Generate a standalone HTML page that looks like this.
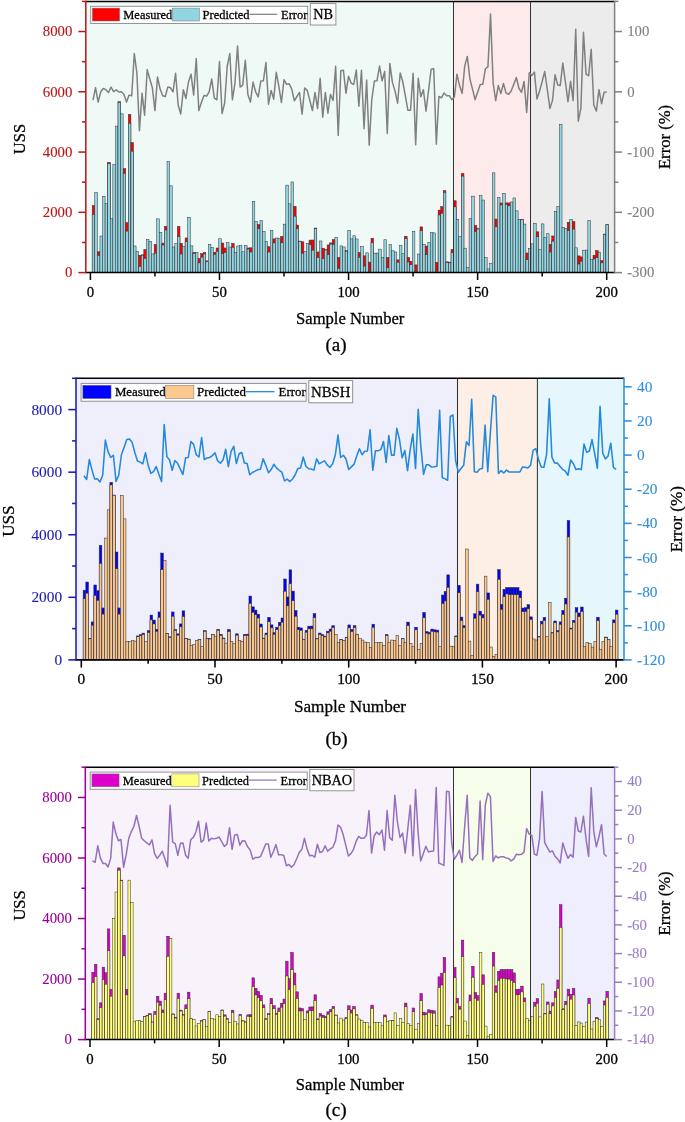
<!DOCTYPE html>
<html><head><meta charset="utf-8"><title>USS prediction error</title>
<style>html,body{margin:0;padding:0;background:#fff;}svg{display:block;will-change:transform;}text{font-family:"Liberation Serif",serif;}</style>
</head><body>
<svg width="685" height="1122" viewBox="0 0 685 1122">
<rect width="685" height="1122" fill="#fff"/>
<g>
<rect x="85.8" y="1.4" width="367.7" height="271.2" fill="#EFFAF7"/>
<rect x="453.5" y="1.4" width="77" height="271.2" fill="#FDEBEB"/>
<rect x="530.5" y="1.4" width="84.1" height="271.2" fill="#ECECEC"/>
<g stroke="#303030" stroke-width="0.5"><rect x="92.19" y="205.49" width="2.58" height="67.11" fill="#FF0000"/><rect x="92.19" y="214.75" width="2.58" height="57.85" fill="#91D5E2"/><rect x="94.77" y="192.57" width="2.58" height="80.03" fill="#91D5E2"/><rect x="97.35" y="251.81" width="2.58" height="20.79" fill="#FF0000"/><rect x="97.35" y="255.36" width="2.58" height="17.24" fill="#91D5E2"/><rect x="99.94" y="236.02" width="2.58" height="36.58" fill="#91D5E2"/><rect x="102.52" y="196.42" width="2.58" height="76.18" fill="#91D5E2"/><rect x="105.1" y="203.71" width="2.58" height="68.89" fill="#91D5E2"/><rect x="107.68" y="162.37" width="2.58" height="110.23" fill="#FF0000"/><rect x="107.68" y="163.58" width="2.58" height="109.02" fill="#91D5E2"/><rect x="110.26" y="218.68" width="2.58" height="53.92" fill="#91D5E2"/><rect x="112.84" y="164.43" width="2.58" height="108.17" fill="#91D5E2"/><rect x="115.42" y="126.1" width="2.58" height="146.5" fill="#91D5E2"/><rect x="118.01" y="101.68" width="2.58" height="170.92" fill="#FF0000"/><rect x="118.01" y="102.37" width="2.58" height="170.23" fill="#91D5E2"/><rect x="120.59" y="113.86" width="2.58" height="158.74" fill="#91D5E2"/><rect x="123.17" y="168.7" width="2.58" height="103.9" fill="#FF0000"/><rect x="123.17" y="173.27" width="2.58" height="99.33" fill="#91D5E2"/><rect x="125.75" y="222.58" width="2.58" height="50.02" fill="#FF0000"/><rect x="125.75" y="231.13" width="2.58" height="41.47" fill="#91D5E2"/><rect x="128.33" y="114.51" width="2.58" height="158.09" fill="#FF0000"/><rect x="128.33" y="123.2" width="2.58" height="149.4" fill="#91D5E2"/><rect x="130.91" y="142.64" width="2.58" height="129.96" fill="#FF0000"/><rect x="130.91" y="151.21" width="2.58" height="121.39" fill="#91D5E2"/><rect x="133.49" y="245.96" width="2.58" height="26.64" fill="#91D5E2"/><rect x="136.08" y="251.46" width="2.58" height="21.14" fill="#91D5E2"/><rect x="138.66" y="255.3" width="2.58" height="17.3" fill="#FF0000"/><rect x="138.66" y="266.48" width="2.58" height="6.12" fill="#91D5E2"/><rect x="141.24" y="254.82" width="2.58" height="17.78" fill="#FF0000"/><rect x="141.24" y="255.21" width="2.58" height="17.39" fill="#91D5E2"/><rect x="143.82" y="249.52" width="2.58" height="23.08" fill="#FF0000"/><rect x="143.82" y="258.52" width="2.58" height="14.08" fill="#91D5E2"/><rect x="146.4" y="239.37" width="2.58" height="33.23" fill="#91D5E2"/><rect x="148.98" y="241.34" width="2.58" height="31.26" fill="#91D5E2"/><rect x="151.57" y="253.92" width="2.58" height="18.68" fill="#91D5E2"/><rect x="154.15" y="244.49" width="2.58" height="28.11" fill="#FF0000"/><rect x="154.15" y="253.26" width="2.58" height="19.34" fill="#91D5E2"/><rect x="156.73" y="218.84" width="2.58" height="53.76" fill="#91D5E2"/><rect x="159.31" y="232.51" width="2.58" height="40.09" fill="#91D5E2"/><rect x="161.89" y="243.1" width="2.58" height="29.5" fill="#FF0000"/><rect x="161.89" y="245.05" width="2.58" height="27.55" fill="#91D5E2"/><rect x="164.47" y="226.41" width="2.58" height="46.19" fill="#FF0000"/><rect x="164.47" y="230.01" width="2.58" height="42.59" fill="#91D5E2"/><rect x="167.05" y="161.67" width="2.58" height="110.93" fill="#91D5E2"/><rect x="169.64" y="185.82" width="2.58" height="86.78" fill="#91D5E2"/><rect x="172.22" y="247.02" width="2.58" height="25.58" fill="#91D5E2"/><rect x="174.8" y="243.47" width="2.58" height="29.13" fill="#91D5E2"/><rect x="177.38" y="226.41" width="2.58" height="46.19" fill="#FF0000"/><rect x="177.38" y="236.57" width="2.58" height="36.03" fill="#91D5E2"/><rect x="179.96" y="243.28" width="2.58" height="29.32" fill="#FF0000"/><rect x="179.96" y="254.04" width="2.58" height="18.56" fill="#91D5E2"/><rect x="182.54" y="246.68" width="2.58" height="25.92" fill="#91D5E2"/><rect x="185.12" y="237.95" width="2.58" height="34.65" fill="#FF0000"/><rect x="185.12" y="241.79" width="2.58" height="30.81" fill="#91D5E2"/><rect x="187.71" y="217.5" width="2.58" height="55.1" fill="#91D5E2"/><rect x="190.29" y="245.82" width="2.58" height="26.78" fill="#91D5E2"/><rect x="192.87" y="252.53" width="2.58" height="20.07" fill="#FF0000"/><rect x="192.87" y="253.63" width="2.58" height="18.97" fill="#91D5E2"/><rect x="195.45" y="252.45" width="2.58" height="20.15" fill="#91D5E2"/><rect x="198.03" y="258.45" width="2.58" height="14.15" fill="#FF0000"/><rect x="198.03" y="262.87" width="2.58" height="9.73" fill="#91D5E2"/><rect x="200.61" y="253.74" width="2.58" height="18.86" fill="#FF0000"/><rect x="200.61" y="257.1" width="2.58" height="15.5" fill="#91D5E2"/><rect x="203.2" y="252.71" width="2.58" height="19.89" fill="#FF0000"/><rect x="203.2" y="253.95" width="2.58" height="18.65" fill="#91D5E2"/><rect x="205.78" y="260.83" width="2.58" height="11.77" fill="#FF0000"/><rect x="205.78" y="261.66" width="2.58" height="10.94" fill="#91D5E2"/><rect x="208.36" y="244.33" width="2.58" height="28.27" fill="#91D5E2"/><rect x="210.94" y="247.29" width="2.58" height="25.31" fill="#91D5E2"/><rect x="213.52" y="252.23" width="2.58" height="20.37" fill="#FF0000"/><rect x="213.52" y="254.27" width="2.58" height="18.33" fill="#91D5E2"/><rect x="216.1" y="247.98" width="2.58" height="24.62" fill="#FF0000"/><rect x="216.1" y="251.26" width="2.58" height="21.34" fill="#91D5E2"/><rect x="218.68" y="238.77" width="2.58" height="33.83" fill="#91D5E2"/><rect x="221.27" y="243.07" width="2.58" height="29.53" fill="#FF0000"/><rect x="221.27" y="253.73" width="2.58" height="18.87" fill="#91D5E2"/><rect x="223.85" y="247.98" width="2.58" height="24.62" fill="#FF0000"/><rect x="223.85" y="252.63" width="2.58" height="19.97" fill="#91D5E2"/><rect x="226.43" y="242.61" width="2.58" height="29.99" fill="#91D5E2"/><rect x="229.01" y="247.06" width="2.58" height="25.54" fill="#91D5E2"/><rect x="231.59" y="243.37" width="2.58" height="29.23" fill="#FF0000"/><rect x="231.59" y="247.26" width="2.58" height="25.34" fill="#91D5E2"/><rect x="234.17" y="252.47" width="2.58" height="20.13" fill="#91D5E2"/><rect x="236.75" y="245.96" width="2.58" height="26.64" fill="#91D5E2"/><rect x="239.34" y="245.54" width="2.58" height="27.06" fill="#91D5E2"/><rect x="241.92" y="251.76" width="2.58" height="20.84" fill="#91D5E2"/><rect x="244.5" y="245.68" width="2.58" height="26.92" fill="#91D5E2"/><rect x="247.08" y="247.98" width="2.58" height="24.62" fill="#FF0000"/><rect x="247.08" y="249.06" width="2.58" height="23.54" fill="#91D5E2"/><rect x="249.66" y="247.8" width="2.58" height="24.8" fill="#FF0000"/><rect x="249.66" y="252.04" width="2.58" height="20.56" fill="#91D5E2"/><rect x="252.24" y="201.23" width="2.58" height="71.37" fill="#91D5E2"/><rect x="254.83" y="221.49" width="2.58" height="51.11" fill="#91D5E2"/><rect x="257.41" y="224.63" width="2.58" height="47.97" fill="#FF0000"/><rect x="257.41" y="228.66" width="2.58" height="43.94" fill="#91D5E2"/><rect x="259.99" y="220.69" width="2.58" height="51.91" fill="#91D5E2"/><rect x="262.57" y="231.71" width="2.58" height="40.89" fill="#91D5E2"/><rect x="265.15" y="241.5" width="2.58" height="31.1" fill="#91D5E2"/><rect x="267.73" y="246.75" width="2.58" height="25.85" fill="#FF0000"/><rect x="267.73" y="252.05" width="2.58" height="20.55" fill="#91D5E2"/><rect x="270.31" y="230.71" width="2.58" height="41.89" fill="#91D5E2"/><rect x="272.9" y="238.85" width="2.58" height="33.75" fill="#FF0000"/><rect x="272.9" y="242.97" width="2.58" height="29.63" fill="#91D5E2"/><rect x="275.48" y="238" width="2.58" height="34.6" fill="#91D5E2"/><rect x="278.06" y="238.31" width="2.58" height="34.29" fill="#91D5E2"/><rect x="280.64" y="236.38" width="2.58" height="36.22" fill="#FF0000"/><rect x="280.64" y="242.83" width="2.58" height="29.77" fill="#91D5E2"/><rect x="283.22" y="224.14" width="2.58" height="48.46" fill="#91D5E2"/><rect x="285.8" y="185.12" width="2.58" height="87.48" fill="#91D5E2"/><rect x="288.38" y="203.85" width="2.58" height="68.75" fill="#91D5E2"/><rect x="290.97" y="181.94" width="2.58" height="90.66" fill="#91D5E2"/><rect x="293.55" y="206.34" width="2.58" height="66.26" fill="#FF0000"/><rect x="293.55" y="216.21" width="2.58" height="56.39" fill="#91D5E2"/><rect x="296.13" y="225.05" width="2.58" height="47.55" fill="#FF0000"/><rect x="296.13" y="228.76" width="2.58" height="43.84" fill="#91D5E2"/><rect x="298.71" y="241.11" width="2.58" height="31.49" fill="#FF0000"/><rect x="298.71" y="241.46" width="2.58" height="31.14" fill="#91D5E2"/><rect x="301.29" y="241.8" width="2.58" height="30.8" fill="#FF0000"/><rect x="301.29" y="253.26" width="2.58" height="19.34" fill="#91D5E2"/><rect x="303.87" y="251.39" width="2.58" height="21.21" fill="#91D5E2"/><rect x="306.46" y="243.41" width="2.58" height="29.19" fill="#91D5E2"/><rect x="309.04" y="240.12" width="2.58" height="32.48" fill="#FF0000"/><rect x="309.04" y="244.79" width="2.58" height="27.81" fill="#91D5E2"/><rect x="311.62" y="240.03" width="2.58" height="32.57" fill="#FF0000"/><rect x="311.62" y="250.19" width="2.58" height="22.41" fill="#91D5E2"/><rect x="314.2" y="228" width="2.58" height="44.6" fill="#FF0000"/><rect x="314.2" y="228.49" width="2.58" height="44.11" fill="#91D5E2"/><rect x="316.78" y="251.96" width="2.58" height="20.64" fill="#FF0000"/><rect x="316.78" y="257.7" width="2.58" height="14.9" fill="#91D5E2"/><rect x="319.36" y="240.98" width="2.58" height="31.62" fill="#91D5E2"/><rect x="321.94" y="248.22" width="2.58" height="24.38" fill="#FF0000"/><rect x="321.94" y="258.53" width="2.58" height="14.07" fill="#91D5E2"/><rect x="324.53" y="249.7" width="2.58" height="22.9" fill="#FF0000"/><rect x="324.53" y="249.95" width="2.58" height="22.65" fill="#91D5E2"/><rect x="327.11" y="244.94" width="2.58" height="27.66" fill="#FF0000"/><rect x="327.11" y="254.79" width="2.58" height="17.81" fill="#91D5E2"/><rect x="329.69" y="242.86" width="2.58" height="29.74" fill="#FF0000"/><rect x="329.69" y="244.17" width="2.58" height="28.43" fill="#91D5E2"/><rect x="332.27" y="239.69" width="2.58" height="32.91" fill="#FF0000"/><rect x="332.27" y="244.43" width="2.58" height="28.17" fill="#91D5E2"/><rect x="334.85" y="237.74" width="2.58" height="34.86" fill="#91D5E2"/><rect x="337.43" y="257.52" width="2.58" height="15.08" fill="#FF0000"/><rect x="337.43" y="268.44" width="2.58" height="4.16" fill="#91D5E2"/><rect x="340.01" y="245.87" width="2.58" height="26.73" fill="#91D5E2"/><rect x="342.6" y="246.92" width="2.58" height="25.68" fill="#91D5E2"/><rect x="345.18" y="250.72" width="2.58" height="21.88" fill="#FF0000"/><rect x="345.18" y="251.2" width="2.58" height="21.4" fill="#91D5E2"/><rect x="347.76" y="230.25" width="2.58" height="42.35" fill="#91D5E2"/><rect x="350.34" y="238.89" width="2.58" height="33.71" fill="#91D5E2"/><rect x="352.92" y="235.75" width="2.58" height="36.85" fill="#91D5E2"/><rect x="355.5" y="238.93" width="2.58" height="33.67" fill="#91D5E2"/><rect x="358.09" y="252.46" width="2.58" height="20.14" fill="#FF0000"/><rect x="358.09" y="257.3" width="2.58" height="15.3" fill="#91D5E2"/><rect x="360.67" y="246.73" width="2.58" height="25.87" fill="#91D5E2"/><rect x="363.25" y="255.84" width="2.58" height="16.76" fill="#FF0000"/><rect x="363.25" y="266.1" width="2.58" height="6.5" fill="#91D5E2"/><rect x="365.83" y="252.82" width="2.58" height="19.78" fill="#91D5E2"/><rect x="368.41" y="262.14" width="2.58" height="10.46" fill="#FF0000"/><rect x="368.41" y="271.41" width="2.58" height="1.19" fill="#91D5E2"/><rect x="370.99" y="238.22" width="2.58" height="34.38" fill="#FF0000"/><rect x="370.99" y="242.79" width="2.58" height="29.81" fill="#91D5E2"/><rect x="373.57" y="253.12" width="2.58" height="19.48" fill="#91D5E2"/><rect x="376.16" y="253.07" width="2.58" height="19.53" fill="#91D5E2"/><rect x="378.74" y="249.17" width="2.58" height="23.43" fill="#91D5E2"/><rect x="381.32" y="257.28" width="2.58" height="15.32" fill="#91D5E2"/><rect x="383.9" y="239.76" width="2.58" height="32.84" fill="#91D5E2"/><rect x="386.48" y="257.49" width="2.58" height="15.11" fill="#FF0000"/><rect x="386.48" y="267.92" width="2.58" height="4.68" fill="#91D5E2"/><rect x="389.06" y="244.55" width="2.58" height="28.05" fill="#91D5E2"/><rect x="391.64" y="250.79" width="2.58" height="21.81" fill="#91D5E2"/><rect x="394.23" y="251.99" width="2.58" height="20.61" fill="#91D5E2"/><rect x="396.81" y="259.84" width="2.58" height="12.76" fill="#FF0000"/><rect x="396.81" y="262.25" width="2.58" height="10.35" fill="#91D5E2"/><rect x="399.39" y="245.56" width="2.58" height="27.04" fill="#91D5E2"/><rect x="401.97" y="253.66" width="2.58" height="18.94" fill="#91D5E2"/><rect x="404.55" y="236.23" width="2.58" height="36.37" fill="#FF0000"/><rect x="404.55" y="238.63" width="2.58" height="33.97" fill="#91D5E2"/><rect x="407.13" y="257.39" width="2.58" height="15.21" fill="#FF0000"/><rect x="407.13" y="262.06" width="2.58" height="10.54" fill="#91D5E2"/><rect x="409.72" y="261.26" width="2.58" height="11.34" fill="#FF0000"/><rect x="409.72" y="264.74" width="2.58" height="7.86" fill="#91D5E2"/><rect x="412.3" y="231.45" width="2.58" height="41.15" fill="#91D5E2"/><rect x="414.88" y="264.88" width="2.58" height="7.72" fill="#FF0000"/><rect x="414.88" y="271.67" width="2.58" height="0.93" fill="#91D5E2"/><rect x="417.46" y="254.05" width="2.58" height="18.55" fill="#91D5E2"/><rect x="420.04" y="226.86" width="2.58" height="45.74" fill="#FF0000"/><rect x="420.04" y="230.7" width="2.58" height="41.9" fill="#91D5E2"/><rect x="422.62" y="244.34" width="2.58" height="28.26" fill="#91D5E2"/><rect x="425.2" y="246.08" width="2.58" height="26.52" fill="#FF0000"/><rect x="425.2" y="254.65" width="2.58" height="17.95" fill="#91D5E2"/><rect x="427.79" y="242.24" width="2.58" height="30.36" fill="#91D5E2"/><rect x="430.37" y="232.74" width="2.58" height="39.86" fill="#91D5E2"/><rect x="432.95" y="232.9" width="2.58" height="39.7" fill="#91D5E2"/><rect x="435.53" y="262.36" width="2.58" height="10.24" fill="#FF0000"/><rect x="435.53" y="271.26" width="2.58" height="1.34" fill="#91D5E2"/><rect x="438.11" y="210.1" width="2.58" height="62.5" fill="#FF0000"/><rect x="438.11" y="214.98" width="2.58" height="57.62" fill="#91D5E2"/><rect x="440.69" y="206.67" width="2.58" height="65.93" fill="#FF0000"/><rect x="440.69" y="213.2" width="2.58" height="59.4" fill="#91D5E2"/><rect x="443.27" y="190.7" width="2.58" height="81.9" fill="#FF0000"/><rect x="443.27" y="192.25" width="2.58" height="80.35" fill="#91D5E2"/><rect x="445.86" y="261.81" width="2.58" height="10.79" fill="#FF0000"/><rect x="445.86" y="262.5" width="2.58" height="10.1" fill="#91D5E2"/><rect x="448.44" y="262.13" width="2.58" height="10.47" fill="#FF0000"/><rect x="448.44" y="262.8" width="2.58" height="9.8" fill="#91D5E2"/><rect x="451.02" y="249.52" width="2.58" height="23.08" fill="#FF0000"/><rect x="451.02" y="252.54" width="2.58" height="20.06" fill="#91D5E2"/><rect x="453.6" y="200.76" width="2.58" height="71.84" fill="#FF0000"/><rect x="453.6" y="206.87" width="2.58" height="65.73" fill="#91D5E2"/><rect x="456.18" y="219.34" width="2.58" height="53.26" fill="#91D5E2"/><rect x="458.76" y="236.31" width="2.58" height="36.29" fill="#91D5E2"/><rect x="461.35" y="173.53" width="2.58" height="99.07" fill="#FF0000"/><rect x="461.35" y="176.11" width="2.58" height="96.49" fill="#91D5E2"/><rect x="463.93" y="248.19" width="2.58" height="24.41" fill="#91D5E2"/><rect x="466.51" y="267.37" width="2.58" height="5.23" fill="#91D5E2"/><rect x="469.09" y="218.63" width="2.58" height="53.97" fill="#91D5E2"/><rect x="471.67" y="196.15" width="2.58" height="76.45" fill="#91D5E2"/><rect x="474.25" y="225.65" width="2.58" height="46.95" fill="#FF0000"/><rect x="474.25" y="231.8" width="2.58" height="40.8" fill="#91D5E2"/><rect x="476.83" y="228.73" width="2.58" height="43.87" fill="#FF0000"/><rect x="476.83" y="229.08" width="2.58" height="43.52" fill="#91D5E2"/><rect x="479.42" y="195.73" width="2.58" height="76.87" fill="#91D5E2"/><rect x="482" y="200.02" width="2.58" height="72.58" fill="#91D5E2"/><rect x="484.58" y="257.52" width="2.58" height="15.08" fill="#91D5E2"/><rect x="487.16" y="268.94" width="2.58" height="3.66" fill="#91D5E2"/><rect x="489.74" y="263.65" width="2.58" height="8.95" fill="#91D5E2"/><rect x="492.32" y="172.83" width="2.58" height="99.77" fill="#91D5E2"/><rect x="494.9" y="219.05" width="2.58" height="53.55" fill="#FF0000"/><rect x="494.9" y="226.87" width="2.58" height="45.73" fill="#91D5E2"/><rect x="497.49" y="197.58" width="2.58" height="75.02" fill="#91D5E2"/><rect x="500.07" y="202.93" width="2.58" height="69.67" fill="#FF0000"/><rect x="500.07" y="205.02" width="2.58" height="67.58" fill="#91D5E2"/><rect x="502.65" y="193.39" width="2.58" height="79.21" fill="#91D5E2"/><rect x="505.23" y="202.93" width="2.58" height="69.67" fill="#FF0000"/><rect x="505.23" y="204.26" width="2.58" height="68.34" fill="#91D5E2"/><rect x="507.81" y="202.93" width="2.58" height="69.67" fill="#FF0000"/><rect x="507.81" y="205.86" width="2.58" height="66.74" fill="#91D5E2"/><rect x="510.39" y="201.96" width="2.58" height="70.64" fill="#91D5E2"/><rect x="512.98" y="197.92" width="2.58" height="74.68" fill="#91D5E2"/><rect x="515.56" y="210.84" width="2.58" height="61.76" fill="#91D5E2"/><rect x="518.14" y="219.37" width="2.58" height="53.23" fill="#91D5E2"/><rect x="520.72" y="219.38" width="2.58" height="53.22" fill="#FF0000"/><rect x="520.72" y="219.81" width="2.58" height="52.79" fill="#91D5E2"/><rect x="523.3" y="224.09" width="2.58" height="48.51" fill="#91D5E2"/><rect x="525.88" y="252.98" width="2.58" height="19.62" fill="#FF0000"/><rect x="525.88" y="259.69" width="2.58" height="12.91" fill="#91D5E2"/><rect x="528.46" y="248.32" width="2.58" height="24.28" fill="#91D5E2"/><rect x="531.05" y="243.82" width="2.58" height="28.78" fill="#91D5E2"/><rect x="533.63" y="223.21" width="2.58" height="49.39" fill="#91D5E2"/><rect x="536.21" y="231.83" width="2.58" height="40.77" fill="#FF0000"/><rect x="536.21" y="236.72" width="2.58" height="35.88" fill="#91D5E2"/><rect x="538.79" y="249.69" width="2.58" height="22.91" fill="#91D5E2"/><rect x="541.37" y="223.9" width="2.58" height="48.7" fill="#91D5E2"/><rect x="543.95" y="237.55" width="2.58" height="35.05" fill="#91D5E2"/><rect x="546.53" y="233.76" width="2.58" height="38.84" fill="#91D5E2"/><rect x="549.12" y="244.24" width="2.58" height="28.36" fill="#FF0000"/><rect x="549.12" y="252.07" width="2.58" height="20.53" fill="#91D5E2"/><rect x="551.7" y="235.99" width="2.58" height="36.61" fill="#FF0000"/><rect x="551.7" y="241.19" width="2.58" height="31.41" fill="#91D5E2"/><rect x="554.28" y="211.42" width="2.58" height="61.18" fill="#91D5E2"/><rect x="556.86" y="206.44" width="2.58" height="66.16" fill="#91D5E2"/><rect x="559.44" y="124.5" width="2.58" height="148.1" fill="#91D5E2"/><rect x="562.02" y="227.31" width="2.58" height="45.29" fill="#91D5E2"/><rect x="564.61" y="228.42" width="2.58" height="44.18" fill="#91D5E2"/><rect x="567.19" y="222.31" width="2.58" height="50.29" fill="#FF0000"/><rect x="567.19" y="230.56" width="2.58" height="42.04" fill="#91D5E2"/><rect x="569.77" y="219.49" width="2.58" height="53.11" fill="#91D5E2"/><rect x="572.35" y="221.67" width="2.58" height="50.93" fill="#FF0000"/><rect x="572.35" y="229.11" width="2.58" height="43.49" fill="#91D5E2"/><rect x="574.93" y="247.85" width="2.58" height="24.75" fill="#91D5E2"/><rect x="577.51" y="255.9" width="2.58" height="16.7" fill="#FF0000"/><rect x="577.51" y="264.03" width="2.58" height="8.57" fill="#91D5E2"/><rect x="580.09" y="256.89" width="2.58" height="15.71" fill="#FF0000"/><rect x="580.09" y="261.22" width="2.58" height="11.38" fill="#91D5E2"/><rect x="582.68" y="250.2" width="2.58" height="22.4" fill="#91D5E2"/><rect x="585.26" y="250.05" width="2.58" height="22.55" fill="#91D5E2"/><rect x="587.84" y="220.64" width="2.58" height="51.96" fill="#91D5E2"/><rect x="590.42" y="259.34" width="2.58" height="13.26" fill="#91D5E2"/><rect x="593" y="255.21" width="2.58" height="17.39" fill="#FF0000"/><rect x="593" y="259.04" width="2.58" height="13.56" fill="#91D5E2"/><rect x="595.58" y="250.57" width="2.58" height="22.03" fill="#FF0000"/><rect x="595.58" y="257.62" width="2.58" height="14.98" fill="#91D5E2"/><rect x="598.16" y="252.12" width="2.58" height="20.48" fill="#91D5E2"/><rect x="600.75" y="260.52" width="2.58" height="12.08" fill="#FF0000"/><rect x="600.75" y="262.91" width="2.58" height="9.69" fill="#91D5E2"/><rect x="603.33" y="234.09" width="2.58" height="38.51" fill="#FF0000"/><rect x="603.33" y="234.4" width="2.58" height="38.2" fill="#91D5E2"/><rect x="605.91" y="224.6" width="2.58" height="48" fill="#FF0000"/><rect x="605.91" y="224.79" width="2.58" height="47.81" fill="#91D5E2"/></g>
<line x1="453.5" y1="1.4" x2="453.5" y2="272.6" stroke="#333" stroke-width="1"/>
<line x1="530.5" y1="1.4" x2="530.5" y2="272.6" stroke="#333" stroke-width="1"/>
<polyline points="92.98,100.12 95.56,87.76 98.14,102.11 100.73,91.8 103.31,88.43 105.89,89.75 108.47,92.46 111.05,87.1 113.63,91.62 116.22,89.75 118.8,92.04 121.38,91.8 123.96,94.45 126.54,102.11 129.12,95.11 131.7,95.78 134.29,53.53 136.87,73 139.45,130.73 142.03,93.13 144.61,115.3 147.19,69.62 149.77,79.02 152.36,87.76 154.94,110.6 157.52,77.03 160.1,89.09 162.68,95.78 165.26,96.5 167.85,87.1 170.43,87.76 173.01,91.8 175.59,73.24 178.17,105.06 180.75,113.92 183.33,89.75 185.92,98.49 188.5,81.74 191.08,74.32 193.66,95.11 196.24,58.47 198.82,110.6 201.4,102.53 203.99,95.54 206.57,96.08 209.15,91.8 211.73,79.02 214.31,97.83 216.89,99.82 219.48,61.55 222.06,113.56 224.64,103.19 227.22,66.25 229.8,53.53 232.38,99.82 234.96,83.06 237.55,46.12 240.13,87.1 242.71,85.05 245.29,60.22 247.87,94.45 250.45,102.11 253.03,82.1 255.62,91.8 258.2,96.86 260.78,81.01 263.36,80.77 265.94,62.57 268.52,104.15 271.11,90.41 273.69,99.15 276.27,72.33 278.85,86.44 281.43,102.53 284.01,79.69 286.59,84.39 289.18,83.72 291.76,89.09 294.34,100.78 296.92,96.5 299.5,92.46 302.08,114.22 304.66,88 307.25,90.41 309.83,100.48 312.41,110.6 314.99,92.46 317.57,108.55 320.15,78.36 322.74,117.29 325.32,92.46 327.9,113.25 330.48,94.45 333.06,100.48 335.64,66.25 338.22,135.43 340.81,70.71 343.39,70.28 345.97,93.13 348.55,76.31 351.13,83.06 353.71,84.57 356.29,70.04 358.88,106.26 361.46,70.28 364.04,128.68 366.62,79.99 369.2,145.2 371.78,99.82 374.37,81.01 376.95,80.77 379.53,66.01 382.11,80.77 384.69,71.37 387.27,133.38 389.85,63.6 392.44,82.4 395.02,91.08 397.6,103.19 400.18,73 402.76,81.74 405.34,95.78 407.92,110.3 410.51,110.3 413.09,73.24 415.67,144.83 418.25,78.36 420.83,96.86 423.41,89.75 426,111.27 428.58,90.41 431.16,69.2 433.74,68.66 436.32,144.17 438.9,96.5 441.48,97.77 444.07,92.95 446.65,95.66 449.23,95.66 451.81,99.69 454.39,96.92 456.97,74.14 459.55,85.59 462.14,93.37 464.72,66.13 467.3,56.42 469.88,78.84 472.46,88.91 475.04,99.69 477.62,92.28 480.21,84.51 482.79,84.27 485.37,68.78 487.95,66.79 490.53,14.12 493.11,82.88 495.7,100.6 498.28,85.59 500.86,93.61 503.44,83.54 506.02,92.95 508.6,94.33 511.18,90.96 513.77,84.27 516.35,77.52 518.93,88.24 521.51,92.28 524.09,81.55 526.67,112.41 529.25,72.82 531.84,75.53 534.42,72.15 537,99.03 539.58,90.96 542.16,81.55 544.74,71.49 547.33,89.63 549.91,108.43 552.49,100.36 555.07,74.87 557.65,84.93 560.23,85.59 562.81,62.99 565.4,82.22 567.98,101.68 570.56,81.25 573.14,100.6 575.72,29.18 578.3,121.15 580.88,108.43 583.47,32.26 586.05,74.14 588.63,75.77 591.21,49.31 593.79,105.06 596.37,111.09 598.96,89.63 601.54,103.73 604.12,92.28 606.7,92.04" fill="none" stroke="#808080" stroke-width="1.5" stroke-linejoin="round"/>
<line x1="85.8" y1="1.4" x2="614.6" y2="1.4" stroke="#000" stroke-width="1.5"/>
<line x1="85.8" y1="272.6" x2="614.6" y2="272.6" stroke="#000" stroke-width="1.5"/>
<line x1="90.4" y1="272.6" x2="90.4" y2="280" stroke="#000" stroke-width="1.5"/>
<line x1="154.94" y1="272.6" x2="154.94" y2="276.4" stroke="#000" stroke-width="1.5"/>
<line x1="219.48" y1="272.6" x2="219.48" y2="280" stroke="#000" stroke-width="1.5"/>
<line x1="284.01" y1="272.6" x2="284.01" y2="276.4" stroke="#000" stroke-width="1.5"/>
<line x1="348.55" y1="272.6" x2="348.55" y2="280" stroke="#000" stroke-width="1.5"/>
<line x1="413.09" y1="272.6" x2="413.09" y2="276.4" stroke="#000" stroke-width="1.5"/>
<line x1="477.62" y1="272.6" x2="477.62" y2="280" stroke="#000" stroke-width="1.5"/>
<line x1="542.16" y1="272.6" x2="542.16" y2="276.4" stroke="#000" stroke-width="1.5"/>
<line x1="606.7" y1="272.6" x2="606.7" y2="280" stroke="#000" stroke-width="1.5"/>
<text x="90.4" y="296.5" font-size="14.8" text-anchor="middle" fill="#000" stroke="#000" stroke-width="0.28" font-family="Liberation Serif, serif">0</text>
<text x="219.48" y="296.5" font-size="14.8" text-anchor="middle" fill="#000" stroke="#000" stroke-width="0.28" font-family="Liberation Serif, serif">50</text>
<text x="348.55" y="296.5" font-size="14.8" text-anchor="middle" fill="#000" stroke="#000" stroke-width="0.28" font-family="Liberation Serif, serif">100</text>
<text x="477.62" y="296.5" font-size="14.8" text-anchor="middle" fill="#000" stroke="#000" stroke-width="0.28" font-family="Liberation Serif, serif">150</text>
<text x="606.7" y="296.5" font-size="14.8" text-anchor="middle" fill="#000" stroke="#000" stroke-width="0.28" font-family="Liberation Serif, serif">200</text>
<line x1="85.8" y1="0.65" x2="85.8" y2="273.35" stroke="#BE1414" stroke-width="1.5"/>
<line x1="78.4" y1="272.6" x2="85.8" y2="272.6" stroke="#BE1414" stroke-width="1.5"/>
<text x="72.4" y="277.48" font-size="14.8" text-anchor="end" fill="#BE1414" stroke="#BE1414" stroke-width="0.1" font-family="Liberation Serif, serif">0</text>
<line x1="82" y1="242.47" x2="85.8" y2="242.47" stroke="#BE1414" stroke-width="1.5"/>
<line x1="78.4" y1="212.33" x2="85.8" y2="212.33" stroke="#BE1414" stroke-width="1.5"/>
<text x="72.4" y="217.22" font-size="14.8" text-anchor="end" fill="#BE1414" stroke="#BE1414" stroke-width="0.1" font-family="Liberation Serif, serif">2000</text>
<line x1="82" y1="182.2" x2="85.8" y2="182.2" stroke="#BE1414" stroke-width="1.5"/>
<line x1="78.4" y1="152.07" x2="85.8" y2="152.07" stroke="#BE1414" stroke-width="1.5"/>
<text x="72.4" y="156.95" font-size="14.8" text-anchor="end" fill="#BE1414" stroke="#BE1414" stroke-width="0.1" font-family="Liberation Serif, serif">4000</text>
<line x1="82" y1="121.93" x2="85.8" y2="121.93" stroke="#BE1414" stroke-width="1.5"/>
<line x1="78.4" y1="91.8" x2="85.8" y2="91.8" stroke="#BE1414" stroke-width="1.5"/>
<text x="72.4" y="96.68" font-size="14.8" text-anchor="end" fill="#BE1414" stroke="#BE1414" stroke-width="0.1" font-family="Liberation Serif, serif">6000</text>
<line x1="82" y1="61.67" x2="85.8" y2="61.67" stroke="#BE1414" stroke-width="1.5"/>
<line x1="78.4" y1="31.53" x2="85.8" y2="31.53" stroke="#BE1414" stroke-width="1.5"/>
<text x="72.4" y="36.42" font-size="14.8" text-anchor="end" fill="#BE1414" stroke="#BE1414" stroke-width="0.1" font-family="Liberation Serif, serif">8000</text>
<line x1="82" y1="1.4" x2="85.8" y2="1.4" stroke="#BE1414" stroke-width="1.5"/>
<line x1="614.6" y1="0.65" x2="614.6" y2="273.35" stroke="#808080" stroke-width="1.5"/>
<line x1="614.6" y1="272.6" x2="622" y2="272.6" stroke="#808080" stroke-width="1.5"/>
<text x="627.2" y="277.48" font-size="14.8" text-anchor="start" fill="#808080" stroke="#808080" stroke-width="0.1" font-family="Liberation Serif, serif">-300</text>
<line x1="614.6" y1="242.47" x2="618.4" y2="242.47" stroke="#808080" stroke-width="1.5"/>
<line x1="614.6" y1="212.33" x2="622" y2="212.33" stroke="#808080" stroke-width="1.5"/>
<text x="627.2" y="217.22" font-size="14.8" text-anchor="start" fill="#808080" stroke="#808080" stroke-width="0.1" font-family="Liberation Serif, serif">-200</text>
<line x1="614.6" y1="182.2" x2="618.4" y2="182.2" stroke="#808080" stroke-width="1.5"/>
<line x1="614.6" y1="152.07" x2="622" y2="152.07" stroke="#808080" stroke-width="1.5"/>
<text x="627.2" y="156.95" font-size="14.8" text-anchor="start" fill="#808080" stroke="#808080" stroke-width="0.1" font-family="Liberation Serif, serif">-100</text>
<line x1="614.6" y1="121.93" x2="618.4" y2="121.93" stroke="#808080" stroke-width="1.5"/>
<line x1="614.6" y1="91.8" x2="622" y2="91.8" stroke="#808080" stroke-width="1.5"/>
<text x="627.2" y="96.68" font-size="14.8" text-anchor="start" fill="#808080" stroke="#808080" stroke-width="0.1" font-family="Liberation Serif, serif">0</text>
<line x1="614.6" y1="61.67" x2="618.4" y2="61.67" stroke="#808080" stroke-width="1.5"/>
<line x1="614.6" y1="31.53" x2="622" y2="31.53" stroke="#808080" stroke-width="1.5"/>
<text x="627.2" y="36.42" font-size="14.8" text-anchor="start" fill="#808080" stroke="#808080" stroke-width="0.1" font-family="Liberation Serif, serif">100</text>
<line x1="614.6" y1="1.4" x2="618.4" y2="1.4" stroke="#808080" stroke-width="1.5"/>
<text transform="translate(25,139) rotate(-90)" font-size="16.6" text-anchor="middle" fill="#000" stroke="#000" stroke-width="0.28" font-family="Liberation Serif, serif">USS</text>
<text transform="translate(669.7,137) rotate(-90)" font-size="16.6" text-anchor="middle" fill="#000" stroke="#000" stroke-width="0.28" font-family="Liberation Serif, serif">Error (%)</text>
<text x="350.2" y="323.5" font-size="16.6" text-anchor="middle" fill="#000" stroke="#000" stroke-width="0.28" font-family="Liberation Serif, serif">Sample Number</text>
<text x="336" y="351.1" font-size="19" text-anchor="middle" fill="#000" stroke="#000" stroke-width="0.28" font-family="Liberation Serif, serif">(a)</text>
<rect x="90.7" y="6.3" width="217" height="17.2" fill="#fff" stroke="#8a8a8a" stroke-width="0.9"/>
<rect x="92.4" y="8.1" width="27.2" height="12.9" fill="#FF0000" stroke="#777" stroke-width="0.5"/>
<text x="123.3" y="18.9" font-size="12.45" fill="#000" stroke="#000" stroke-width="0.28" font-family="Liberation Serif, serif">Measured</text>
<rect x="172.3" y="8.1" width="27.2" height="12.9" fill="#91D5E2" stroke="#777" stroke-width="0.5"/>
<text x="202.6" y="18.9" font-size="12.45" fill="#000" stroke="#000" stroke-width="0.28" font-family="Liberation Serif, serif">Predicted</text>
<line x1="249.4" y1="14.3" x2="277.2" y2="14.3" stroke="#808080" stroke-width="1.25"/>
<text x="281.1" y="18.9" font-size="12.45" fill="#000" stroke="#000" stroke-width="0.28" font-family="Liberation Serif, serif">Error</text>
<rect x="310.3" y="3.6" width="25.6" height="21.4" fill="#fff" stroke="#8a8a8a" stroke-width="0.9"/>
<text x="323.1" y="19.3" font-size="14.3" text-anchor="middle" fill="#000" stroke="#000" stroke-width="0.28" font-family="Liberation Serif, serif">NB</text>
</g>
<g>
<rect x="76" y="378.3" width="381.5" height="281.6" fill="#EFEFFC"/>
<rect x="457.5" y="378.3" width="79.9" height="281.6" fill="#FDEFE5"/>
<rect x="537.4" y="378.3" width="86.6" height="281.6" fill="#E6F6FD"/>
<g stroke="#303030" stroke-width="0.52"><rect x="83.16" y="590.22" width="2.67" height="69.68" fill="#0000FF"/><rect x="83.16" y="598.65" width="2.67" height="61.25" fill="#FBC88F"/><rect x="85.83" y="582.02" width="2.67" height="77.88" fill="#0000FF"/><rect x="85.83" y="593.16" width="2.67" height="66.74" fill="#FBC88F"/><rect x="88.5" y="638.31" width="2.67" height="21.59" fill="#0000FF"/><rect x="88.5" y="638.87" width="2.67" height="21.03" fill="#FBC88F"/><rect x="91.18" y="621.92" width="2.67" height="37.98" fill="#0000FF"/><rect x="91.18" y="625.26" width="2.67" height="34.64" fill="#FBC88F"/><rect x="93.85" y="584.99" width="2.67" height="74.91" fill="#0000FF"/><rect x="93.85" y="595.48" width="2.67" height="64.42" fill="#FBC88F"/><rect x="96.53" y="590.72" width="2.67" height="69.18" fill="#0000FF"/><rect x="96.53" y="600.34" width="2.67" height="59.56" fill="#FBC88F"/><rect x="99.2" y="545.45" width="2.67" height="114.45" fill="#0000FF"/><rect x="99.2" y="563.41" width="2.67" height="96.49" fill="#FBC88F"/><rect x="101.87" y="607.96" width="2.67" height="51.94" fill="#0000FF"/><rect x="101.87" y="614.09" width="2.67" height="45.81" fill="#FBC88F"/><rect x="104.55" y="538.06" width="2.67" height="121.84" fill="#FBC88F"/><rect x="107.22" y="509.84" width="2.67" height="150.06" fill="#FBC88F"/><rect x="109.9" y="482.43" width="2.67" height="177.47" fill="#0000FF"/><rect x="109.9" y="484.91" width="2.67" height="174.99" fill="#FBC88F"/><rect x="112.57" y="495.07" width="2.67" height="164.83" fill="#0000FF"/><rect x="112.57" y="495.23" width="2.67" height="164.67" fill="#FBC88F"/><rect x="115.24" y="552.02" width="2.67" height="107.88" fill="#0000FF"/><rect x="115.24" y="568.74" width="2.67" height="91.16" fill="#FBC88F"/><rect x="117.92" y="607.96" width="2.67" height="51.94" fill="#0000FF"/><rect x="117.92" y="614.09" width="2.67" height="45.81" fill="#FBC88F"/><rect x="120.59" y="495.41" width="2.67" height="164.49" fill="#FBC88F"/><rect x="123.27" y="518.88" width="2.67" height="141.02" fill="#FBC88F"/><rect x="125.94" y="641.44" width="2.67" height="18.46" fill="#FBC88F"/><rect x="128.61" y="641.6" width="2.67" height="18.3" fill="#FBC88F"/><rect x="131.29" y="640.59" width="2.67" height="19.31" fill="#FBC88F"/><rect x="133.96" y="641.13" width="2.67" height="18.77" fill="#FBC88F"/><rect x="136.64" y="635.93" width="2.67" height="23.97" fill="#0000FF"/><rect x="136.64" y="636.77" width="2.67" height="23.13" fill="#FBC88F"/><rect x="139.31" y="634.68" width="2.67" height="25.22" fill="#0000FF"/><rect x="139.31" y="635.72" width="2.67" height="24.18" fill="#FBC88F"/><rect x="141.98" y="633.12" width="2.67" height="26.78" fill="#0000FF"/><rect x="141.98" y="634.48" width="2.67" height="25.42" fill="#FBC88F"/><rect x="144.66" y="641.47" width="2.67" height="18.43" fill="#FBC88F"/><rect x="147.33" y="630.71" width="2.67" height="29.19" fill="#0000FF"/><rect x="147.33" y="632.46" width="2.67" height="27.44" fill="#FBC88F"/><rect x="150.01" y="615.06" width="2.67" height="44.84" fill="#0000FF"/><rect x="150.01" y="619.86" width="2.67" height="40.04" fill="#FBC88F"/><rect x="152.68" y="620.07" width="2.67" height="39.83" fill="#0000FF"/><rect x="152.68" y="623.93" width="2.67" height="35.97" fill="#FBC88F"/><rect x="155.35" y="629.27" width="2.67" height="30.63" fill="#0000FF"/><rect x="155.35" y="631.32" width="2.67" height="28.58" fill="#FBC88F"/><rect x="158.03" y="611.93" width="2.67" height="47.97" fill="#0000FF"/><rect x="158.03" y="617.31" width="2.67" height="42.59" fill="#FBC88F"/><rect x="160.7" y="553.05" width="2.67" height="106.85" fill="#0000FF"/><rect x="160.7" y="569.61" width="2.67" height="90.29" fill="#FBC88F"/><rect x="163.38" y="560.34" width="2.67" height="99.56" fill="#FBC88F"/><rect x="166.05" y="633.34" width="2.67" height="26.56" fill="#0000FF"/><rect x="166.05" y="633.57" width="2.67" height="26.33" fill="#FBC88F"/><rect x="168.72" y="636.78" width="2.67" height="23.12" fill="#0000FF"/><rect x="168.72" y="637.45" width="2.67" height="22.45" fill="#FBC88F"/><rect x="171.4" y="611.93" width="2.67" height="47.97" fill="#0000FF"/><rect x="171.4" y="616.2" width="2.67" height="43.7" fill="#FBC88F"/><rect x="174.07" y="629.46" width="2.67" height="30.44" fill="#0000FF"/><rect x="174.07" y="630.43" width="2.67" height="29.47" fill="#FBC88F"/><rect x="176.75" y="633.87" width="2.67" height="26.03" fill="#0000FF"/><rect x="176.75" y="635.12" width="2.67" height="24.78" fill="#FBC88F"/><rect x="179.42" y="623.92" width="2.67" height="35.98" fill="#0000FF"/><rect x="179.42" y="626.83" width="2.67" height="33.07" fill="#FBC88F"/><rect x="182.09" y="610.87" width="2.67" height="49.03" fill="#0000FF"/><rect x="182.09" y="616.46" width="2.67" height="43.44" fill="#FBC88F"/><rect x="184.77" y="638.34" width="2.67" height="21.56" fill="#0000FF"/><rect x="184.77" y="638.69" width="2.67" height="21.21" fill="#FBC88F"/><rect x="187.44" y="639.06" width="2.67" height="20.84" fill="#0000FF"/><rect x="187.44" y="639.35" width="2.67" height="20.55" fill="#FBC88F"/><rect x="190.12" y="645.35" width="2.67" height="14.55" fill="#FBC88F"/><rect x="192.79" y="644.29" width="2.67" height="15.61" fill="#FBC88F"/><rect x="195.46" y="640.28" width="2.67" height="19.62" fill="#FBC88F"/><rect x="198.14" y="639.25" width="2.67" height="20.65" fill="#0000FF"/><rect x="198.14" y="639.48" width="2.67" height="20.42" fill="#FBC88F"/><rect x="200.81" y="646.41" width="2.67" height="13.49" fill="#FBC88F"/><rect x="203.49" y="630.55" width="2.67" height="29.35" fill="#0000FF"/><rect x="203.49" y="631.31" width="2.67" height="28.59" fill="#FBC88F"/><rect x="206.16" y="638.22" width="2.67" height="21.68" fill="#0000FF"/><rect x="206.16" y="638.59" width="2.67" height="21.31" fill="#FBC88F"/><rect x="208.83" y="638.75" width="2.67" height="21.15" fill="#0000FF"/><rect x="208.83" y="639.04" width="2.67" height="20.86" fill="#FBC88F"/><rect x="211.51" y="634.34" width="2.67" height="25.56" fill="#0000FF"/><rect x="211.51" y="634.41" width="2.67" height="25.49" fill="#FBC88F"/><rect x="214.18" y="636.18" width="2.67" height="23.72" fill="#FBC88F"/><rect x="216.86" y="629.24" width="2.67" height="30.66" fill="#0000FF"/><rect x="216.86" y="630.28" width="2.67" height="29.62" fill="#FBC88F"/><rect x="219.53" y="634.34" width="2.67" height="25.56" fill="#0000FF"/><rect x="219.53" y="635.56" width="2.67" height="24.34" fill="#FBC88F"/><rect x="222.2" y="638.03" width="2.67" height="21.87" fill="#0000FF"/><rect x="222.2" y="638.66" width="2.67" height="21.24" fill="#FBC88F"/><rect x="224.88" y="643.13" width="2.67" height="16.77" fill="#FBC88F"/><rect x="227.55" y="629.55" width="2.67" height="30.35" fill="#0000FF"/><rect x="227.55" y="631.58" width="2.67" height="28.32" fill="#FBC88F"/><rect x="230.23" y="641.28" width="2.67" height="18.62" fill="#FBC88F"/><rect x="232.9" y="643.35" width="2.67" height="16.55" fill="#FBC88F"/><rect x="235.57" y="633.84" width="2.67" height="26.06" fill="#0000FF"/><rect x="235.57" y="635.11" width="2.67" height="24.79" fill="#FBC88F"/><rect x="238.25" y="640.28" width="2.67" height="19.62" fill="#FBC88F"/><rect x="240.92" y="641.28" width="2.67" height="18.62" fill="#FBC88F"/><rect x="243.6" y="634.34" width="2.67" height="25.56" fill="#0000FF"/><rect x="243.6" y="635.51" width="2.67" height="24.39" fill="#FBC88F"/><rect x="246.27" y="634.15" width="2.67" height="25.75" fill="#0000FF"/><rect x="246.27" y="635.41" width="2.67" height="24.49" fill="#FBC88F"/><rect x="248.94" y="596.07" width="2.67" height="63.83" fill="#0000FF"/><rect x="248.94" y="603.41" width="2.67" height="56.49" fill="#FBC88F"/><rect x="251.62" y="606.83" width="2.67" height="53.07" fill="#0000FF"/><rect x="251.62" y="612.25" width="2.67" height="47.65" fill="#FBC88F"/><rect x="254.29" y="610.09" width="2.67" height="49.81" fill="#0000FF"/><rect x="254.29" y="614.77" width="2.67" height="45.13" fill="#FBC88F"/><rect x="256.97" y="614.19" width="2.67" height="45.71" fill="#0000FF"/><rect x="256.97" y="618.07" width="2.67" height="41.83" fill="#FBC88F"/><rect x="259.64" y="624.01" width="2.67" height="35.89" fill="#0000FF"/><rect x="259.64" y="626.99" width="2.67" height="32.91" fill="#FBC88F"/><rect x="262.31" y="638.15" width="2.67" height="21.75" fill="#0000FF"/><rect x="262.31" y="638.63" width="2.67" height="21.27" fill="#FBC88F"/><rect x="264.99" y="633.05" width="2.67" height="26.85" fill="#0000FF"/><rect x="264.99" y="634.66" width="2.67" height="25.24" fill="#FBC88F"/><rect x="267.66" y="617.38" width="2.67" height="42.52" fill="#0000FF"/><rect x="267.66" y="621.76" width="2.67" height="38.14" fill="#FBC88F"/><rect x="270.34" y="624.86" width="2.67" height="35.04" fill="#0000FF"/><rect x="270.34" y="627.84" width="2.67" height="32.06" fill="#FBC88F"/><rect x="273.01" y="632.74" width="2.67" height="27.16" fill="#0000FF"/><rect x="273.01" y="634.21" width="2.67" height="25.69" fill="#FBC88F"/><rect x="275.68" y="627.2" width="2.67" height="32.7" fill="#0000FF"/><rect x="275.68" y="629.66" width="2.67" height="30.24" fill="#FBC88F"/><rect x="278.36" y="622.29" width="2.67" height="37.61" fill="#0000FF"/><rect x="278.36" y="625.64" width="2.67" height="34.26" fill="#FBC88F"/><rect x="281.03" y="618" width="2.67" height="41.9" fill="#0000FF"/><rect x="281.03" y="622.19" width="2.67" height="37.71" fill="#FBC88F"/><rect x="283.71" y="579.02" width="2.67" height="80.88" fill="#0000FF"/><rect x="283.71" y="591.23" width="2.67" height="68.67" fill="#FBC88F"/><rect x="286.38" y="596.95" width="2.67" height="62.95" fill="#0000FF"/><rect x="286.38" y="605.82" width="2.67" height="54.08" fill="#FBC88F"/><rect x="289.05" y="569.82" width="2.67" height="90.08" fill="#0000FF"/><rect x="289.05" y="583.78" width="2.67" height="76.12" fill="#FBC88F"/><rect x="291.73" y="591.1" width="2.67" height="68.8" fill="#0000FF"/><rect x="291.73" y="600.73" width="2.67" height="59.17" fill="#FBC88F"/><rect x="294.4" y="610.53" width="2.67" height="49.37" fill="#0000FF"/><rect x="294.4" y="616.2" width="2.67" height="43.7" fill="#FBC88F"/><rect x="297.08" y="627.2" width="2.67" height="32.7" fill="#0000FF"/><rect x="297.08" y="629.75" width="2.67" height="30.15" fill="#FBC88F"/><rect x="299.75" y="627.92" width="2.67" height="31.98" fill="#0000FF"/><rect x="299.75" y="630.32" width="2.67" height="29.58" fill="#FBC88F"/><rect x="302.42" y="639.19" width="2.67" height="20.71" fill="#0000FF"/><rect x="302.42" y="639.41" width="2.67" height="20.49" fill="#FBC88F"/><rect x="305.1" y="630.27" width="2.67" height="29.63" fill="#0000FF"/><rect x="305.1" y="632.2" width="2.67" height="27.7" fill="#FBC88F"/><rect x="307.77" y="626.17" width="2.67" height="33.73" fill="#0000FF"/><rect x="307.77" y="628.87" width="2.67" height="31.03" fill="#FBC88F"/><rect x="310.45" y="626.08" width="2.67" height="33.82" fill="#0000FF"/><rect x="310.45" y="628.82" width="2.67" height="31.08" fill="#FBC88F"/><rect x="313.12" y="613.59" width="2.67" height="46.31" fill="#0000FF"/><rect x="313.12" y="617.67" width="2.67" height="42.23" fill="#FBC88F"/><rect x="315.79" y="638.47" width="2.67" height="21.43" fill="#0000FF"/><rect x="315.79" y="638.94" width="2.67" height="20.96" fill="#FBC88F"/><rect x="318.47" y="633.05" width="2.67" height="26.85" fill="#0000FF"/><rect x="318.47" y="634.42" width="2.67" height="25.48" fill="#FBC88F"/><rect x="321.14" y="634.59" width="2.67" height="25.31" fill="#0000FF"/><rect x="321.14" y="635.63" width="2.67" height="24.27" fill="#FBC88F"/><rect x="323.82" y="636.12" width="2.67" height="23.78" fill="#0000FF"/><rect x="323.82" y="636.93" width="2.67" height="22.97" fill="#FBC88F"/><rect x="326.49" y="631.18" width="2.67" height="28.72" fill="#0000FF"/><rect x="326.49" y="632.87" width="2.67" height="27.03" fill="#FBC88F"/><rect x="329.16" y="629.02" width="2.67" height="30.88" fill="#0000FF"/><rect x="329.16" y="631.24" width="2.67" height="28.66" fill="#FBC88F"/><rect x="331.84" y="625.73" width="2.67" height="34.17" fill="#0000FF"/><rect x="331.84" y="627.48" width="2.67" height="32.42" fill="#FBC88F"/><rect x="334.51" y="634.43" width="2.67" height="25.47" fill="#FBC88F"/><rect x="337.19" y="642.41" width="2.67" height="17.49" fill="#FBC88F"/><rect x="339.86" y="639.34" width="2.67" height="20.56" fill="#0000FF"/><rect x="339.86" y="639.63" width="2.67" height="20.27" fill="#FBC88F"/><rect x="342.53" y="640.25" width="2.67" height="19.65" fill="#0000FF"/><rect x="342.53" y="640.27" width="2.67" height="19.63" fill="#FBC88F"/><rect x="345.21" y="637.18" width="2.67" height="22.72" fill="#0000FF"/><rect x="345.21" y="637.71" width="2.67" height="22.19" fill="#FBC88F"/><rect x="347.88" y="624.92" width="2.67" height="34.98" fill="#0000FF"/><rect x="347.88" y="627.86" width="2.67" height="32.04" fill="#FBC88F"/><rect x="350.56" y="629.33" width="2.67" height="30.57" fill="#0000FF"/><rect x="350.56" y="631.44" width="2.67" height="28.46" fill="#FBC88F"/><rect x="353.23" y="625.73" width="2.67" height="34.17" fill="#0000FF"/><rect x="353.23" y="627.54" width="2.67" height="32.36" fill="#FBC88F"/><rect x="355.9" y="634.21" width="2.67" height="25.69" fill="#0000FF"/><rect x="355.9" y="634.34" width="2.67" height="25.56" fill="#FBC88F"/><rect x="358.58" y="638.22" width="2.67" height="21.68" fill="#FBC88F"/><rect x="361.25" y="640.06" width="2.67" height="19.84" fill="#FBC88F"/><rect x="363.93" y="642.1" width="2.67" height="17.8" fill="#FBC88F"/><rect x="366.6" y="642.32" width="2.67" height="17.58" fill="#FBC88F"/><rect x="369.27" y="647.42" width="2.67" height="12.48" fill="#FBC88F"/><rect x="371.95" y="624.2" width="2.67" height="35.7" fill="#0000FF"/><rect x="371.95" y="627.38" width="2.67" height="32.52" fill="#FBC88F"/><rect x="374.62" y="642.32" width="2.67" height="17.58" fill="#FBC88F"/><rect x="377.3" y="642.32" width="2.67" height="17.58" fill="#FBC88F"/><rect x="379.97" y="642.32" width="2.67" height="17.58" fill="#FBC88F"/><rect x="382.64" y="645.38" width="2.67" height="14.52" fill="#FBC88F"/><rect x="385.32" y="634.43" width="2.67" height="25.47" fill="#0000FF"/><rect x="385.32" y="635.53" width="2.67" height="24.37" fill="#FBC88F"/><rect x="387.99" y="642.41" width="2.67" height="17.49" fill="#FBC88F"/><rect x="390.67" y="640.06" width="2.67" height="19.84" fill="#FBC88F"/><rect x="393.34" y="640.31" width="2.67" height="19.59" fill="#FBC88F"/><rect x="396.01" y="635.43" width="2.67" height="24.47" fill="#FBC88F"/><rect x="398.69" y="645.44" width="2.67" height="14.46" fill="#FBC88F"/><rect x="401.36" y="638.5" width="2.67" height="21.4" fill="#0000FF"/><rect x="401.36" y="638.84" width="2.67" height="21.06" fill="#FBC88F"/><rect x="404.04" y="642.6" width="2.67" height="17.3" fill="#FBC88F"/><rect x="406.71" y="622.13" width="2.67" height="37.77" fill="#0000FF"/><rect x="406.71" y="625.57" width="2.67" height="34.33" fill="#FBC88F"/><rect x="409.38" y="643.6" width="2.67" height="16.3" fill="#FBC88F"/><rect x="412.06" y="646.66" width="2.67" height="13.24" fill="#FBC88F"/><rect x="414.73" y="627.23" width="2.67" height="32.67" fill="#0000FF"/><rect x="414.73" y="629.81" width="2.67" height="30.09" fill="#FBC88F"/><rect x="417.41" y="649.73" width="2.67" height="10.17" fill="#FBC88F"/><rect x="420.08" y="643.41" width="2.67" height="16.49" fill="#FBC88F"/><rect x="422.75" y="612.4" width="2.67" height="47.5" fill="#0000FF"/><rect x="422.75" y="617.77" width="2.67" height="42.13" fill="#FBC88F"/><rect x="425.43" y="631.52" width="2.67" height="28.38" fill="#0000FF"/><rect x="425.43" y="633.14" width="2.67" height="26.76" fill="#FBC88F"/><rect x="428.1" y="632.37" width="2.67" height="27.53" fill="#0000FF"/><rect x="428.1" y="633.94" width="2.67" height="25.96" fill="#FBC88F"/><rect x="430.78" y="629.08" width="2.67" height="30.82" fill="#0000FF"/><rect x="430.78" y="631.24" width="2.67" height="28.66" fill="#FBC88F"/><rect x="433.45" y="629.8" width="2.67" height="30.1" fill="#0000FF"/><rect x="433.45" y="631.85" width="2.67" height="28.05" fill="#FBC88F"/><rect x="436.12" y="630.11" width="2.67" height="29.79" fill="#0000FF"/><rect x="436.12" y="632.05" width="2.67" height="27.85" fill="#FBC88F"/><rect x="438.8" y="646.48" width="2.67" height="13.42" fill="#FBC88F"/><rect x="441.47" y="595.01" width="2.67" height="64.89" fill="#0000FF"/><rect x="441.47" y="603.57" width="2.67" height="56.33" fill="#FBC88F"/><rect x="444.15" y="591.44" width="2.67" height="68.46" fill="#0000FF"/><rect x="444.15" y="600.96" width="2.67" height="58.94" fill="#FBC88F"/><rect x="446.82" y="574.86" width="2.67" height="85.04" fill="#0000FF"/><rect x="446.82" y="587.36" width="2.67" height="72.54" fill="#FBC88F"/><rect x="449.49" y="646.16" width="2.67" height="13.74" fill="#FBC88F"/><rect x="452.17" y="646.48" width="2.67" height="13.42" fill="#FBC88F"/><rect x="454.84" y="635.93" width="2.67" height="23.97" fill="#0000FF"/><rect x="454.84" y="636.72" width="2.67" height="23.18" fill="#FBC88F"/><rect x="457.52" y="585.31" width="2.67" height="74.59" fill="#0000FF"/><rect x="457.52" y="592.77" width="2.67" height="67.13" fill="#FBC88F"/><rect x="460.19" y="617.13" width="2.67" height="42.77" fill="#0000FF"/><rect x="460.19" y="620.51" width="2.67" height="39.39" fill="#FBC88F"/><rect x="462.86" y="625.73" width="2.67" height="34.17" fill="#0000FF"/><rect x="462.86" y="627.78" width="2.67" height="32.12" fill="#FBC88F"/><rect x="465.54" y="549.01" width="2.67" height="110.89" fill="#FBC88F"/><rect x="468.21" y="641.13" width="2.67" height="18.77" fill="#FBC88F"/><rect x="470.89" y="655.36" width="2.67" height="4.54" fill="#FBC88F"/><rect x="473.56" y="613.78" width="2.67" height="46.12" fill="#0000FF"/><rect x="473.56" y="618.25" width="2.67" height="41.65" fill="#FBC88F"/><rect x="476.23" y="584.15" width="2.67" height="75.75" fill="#0000FF"/><rect x="476.23" y="591.72" width="2.67" height="68.18" fill="#FBC88F"/><rect x="478.91" y="611.15" width="2.67" height="48.75" fill="#0000FF"/><rect x="478.91" y="615.15" width="2.67" height="44.75" fill="#FBC88F"/><rect x="481.58" y="614.34" width="2.67" height="45.56" fill="#0000FF"/><rect x="481.58" y="617.9" width="2.67" height="42" fill="#FBC88F"/><rect x="484.26" y="576.17" width="2.67" height="83.73" fill="#FBC88F"/><rect x="486.93" y="592.91" width="2.67" height="66.99" fill="#0000FF"/><rect x="486.93" y="599.41" width="2.67" height="60.49" fill="#FBC88F"/><rect x="489.6" y="647.04" width="2.67" height="12.86" fill="#FBC88F"/><rect x="492.28" y="656.27" width="2.67" height="3.63" fill="#FBC88F"/><rect x="494.95" y="654.46" width="2.67" height="5.44" fill="#FBC88F"/><rect x="497.63" y="569.66" width="2.67" height="90.24" fill="#0000FF"/><rect x="497.63" y="579.32" width="2.67" height="80.58" fill="#FBC88F"/><rect x="500.3" y="604.3" width="2.67" height="55.6" fill="#0000FF"/><rect x="500.3" y="609.36" width="2.67" height="50.54" fill="#FBC88F"/><rect x="502.97" y="589.28" width="2.67" height="70.62" fill="#0000FF"/><rect x="502.97" y="596.7" width="2.67" height="63.2" fill="#FBC88F"/><rect x="505.65" y="587.56" width="2.67" height="72.34" fill="#0000FF"/><rect x="505.65" y="593.93" width="2.67" height="65.97" fill="#FBC88F"/><rect x="508.32" y="587.56" width="2.67" height="72.34" fill="#0000FF"/><rect x="508.32" y="594.72" width="2.67" height="65.18" fill="#FBC88F"/><rect x="511" y="587.56" width="2.67" height="72.34" fill="#0000FF"/><rect x="511" y="594.72" width="2.67" height="65.18" fill="#FBC88F"/><rect x="513.67" y="587.56" width="2.67" height="72.34" fill="#0000FF"/><rect x="513.67" y="594.72" width="2.67" height="65.18" fill="#FBC88F"/><rect x="516.34" y="587.56" width="2.67" height="72.34" fill="#0000FF"/><rect x="516.34" y="594.72" width="2.67" height="65.18" fill="#FBC88F"/><rect x="519.02" y="590.97" width="2.67" height="68.93" fill="#0000FF"/><rect x="519.02" y="597.79" width="2.67" height="62.11" fill="#FBC88F"/><rect x="521.69" y="608.05" width="2.67" height="51.85" fill="#0000FF"/><rect x="521.69" y="611.68" width="2.67" height="48.22" fill="#FBC88F"/><rect x="524.37" y="607.71" width="2.67" height="52.19" fill="#0000FF"/><rect x="524.37" y="611.42" width="2.67" height="48.48" fill="#FBC88F"/><rect x="527.04" y="604.64" width="2.67" height="55.26" fill="#0000FF"/><rect x="527.04" y="608.84" width="2.67" height="51.06" fill="#FBC88F"/><rect x="529.71" y="616.85" width="2.67" height="43.05" fill="#0000FF"/><rect x="529.71" y="619.43" width="2.67" height="40.47" fill="#FBC88F"/><rect x="532.39" y="638.94" width="2.67" height="20.96" fill="#FBC88F"/><rect x="535.06" y="640" width="2.67" height="19.9" fill="#FBC88F"/><rect x="537.74" y="636.37" width="2.67" height="23.53" fill="#0000FF"/><rect x="537.74" y="637.01" width="2.67" height="22.89" fill="#FBC88F"/><rect x="540.41" y="621.23" width="2.67" height="38.67" fill="#0000FF"/><rect x="540.41" y="623.93" width="2.67" height="35.97" fill="#FBC88F"/><rect x="543.08" y="617.57" width="2.67" height="42.33" fill="#0000FF"/><rect x="543.08" y="620.57" width="2.67" height="39.33" fill="#FBC88F"/><rect x="545.76" y="636.37" width="2.67" height="23.53" fill="#FBC88F"/><rect x="548.43" y="602.42" width="2.67" height="57.48" fill="#FBC88F"/><rect x="551.11" y="632.68" width="2.67" height="27.22" fill="#0000FF"/><rect x="551.11" y="633.01" width="2.67" height="26.89" fill="#FBC88F"/><rect x="553.78" y="620.98" width="2.67" height="38.92" fill="#0000FF"/><rect x="553.78" y="622.77" width="2.67" height="37.13" fill="#FBC88F"/><rect x="556.45" y="630.46" width="2.67" height="29.44" fill="#0000FF"/><rect x="556.45" y="631.84" width="2.67" height="28.06" fill="#FBC88F"/><rect x="559.13" y="621.88" width="2.67" height="38.02" fill="#0000FF"/><rect x="559.13" y="624.39" width="2.67" height="35.51" fill="#FBC88F"/><rect x="561.8" y="610.31" width="2.67" height="49.59" fill="#0000FF"/><rect x="561.8" y="614.42" width="2.67" height="45.48" fill="#FBC88F"/><rect x="564.48" y="598.23" width="2.67" height="61.67" fill="#0000FF"/><rect x="564.48" y="604.03" width="2.67" height="55.87" fill="#FBC88F"/><rect x="567.15" y="520.48" width="2.67" height="139.42" fill="#0000FF"/><rect x="567.15" y="536.93" width="2.67" height="122.97" fill="#FBC88F"/><rect x="569.82" y="628.08" width="2.67" height="31.82" fill="#0000FF"/><rect x="569.82" y="629" width="2.67" height="30.9" fill="#FBC88F"/><rect x="572.5" y="620.32" width="2.67" height="39.58" fill="#0000FF"/><rect x="572.5" y="622.26" width="2.67" height="37.64" fill="#FBC88F"/><rect x="575.17" y="607.68" width="2.67" height="52.22" fill="#0000FF"/><rect x="575.17" y="612.12" width="2.67" height="47.78" fill="#FBC88F"/><rect x="577.85" y="612.97" width="2.67" height="46.93" fill="#0000FF"/><rect x="577.85" y="616.72" width="2.67" height="43.18" fill="#FBC88F"/><rect x="580.52" y="607.02" width="2.67" height="52.88" fill="#0000FF"/><rect x="580.52" y="611.52" width="2.67" height="48.38" fill="#FBC88F"/><rect x="583.19" y="646.48" width="2.67" height="13.42" fill="#FBC88F"/><rect x="585.87" y="642.28" width="2.67" height="17.62" fill="#FBC88F"/><rect x="588.54" y="643.19" width="2.67" height="16.71" fill="#FBC88F"/><rect x="591.22" y="647.13" width="2.67" height="12.77" fill="#FBC88F"/><rect x="593.89" y="641.63" width="2.67" height="18.27" fill="#FBC88F"/><rect x="596.56" y="617.28" width="2.67" height="42.62" fill="#0000FF"/><rect x="596.56" y="620.57" width="2.67" height="39.33" fill="#FBC88F"/><rect x="599.24" y="649.51" width="2.67" height="10.39" fill="#FBC88F"/><rect x="601.91" y="641.63" width="2.67" height="18.27" fill="#FBC88F"/><rect x="604.59" y="637.03" width="2.67" height="22.87" fill="#0000FF"/><rect x="604.59" y="637.53" width="2.67" height="22.37" fill="#FBC88F"/><rect x="607.26" y="639.37" width="2.67" height="20.53" fill="#0000FF"/><rect x="607.26" y="639.48" width="2.67" height="20.42" fill="#FBC88F"/><rect x="609.93" y="646.48" width="2.67" height="13.42" fill="#FBC88F"/><rect x="612.61" y="619.91" width="2.67" height="39.99" fill="#0000FF"/><rect x="612.61" y="622.79" width="2.67" height="37.11" fill="#FBC88F"/><rect x="615.28" y="610.06" width="2.67" height="49.84" fill="#0000FF"/><rect x="615.28" y="614.19" width="2.67" height="45.71" fill="#FBC88F"/></g>
<line x1="457.5" y1="378.3" x2="457.5" y2="659.9" stroke="#333" stroke-width="1.04"/>
<line x1="537.4" y1="378.3" x2="537.4" y2="659.9" stroke="#333" stroke-width="1.04"/>
<polyline points="83.97,475.75 86.65,479.51 89.32,459.54 92,470.12 94.67,478.99 97.34,478.82 100.02,481.89 102.69,475.24 105.37,440.08 108.04,451.69 110.71,457.49 113.39,455.27 116.06,481.55 118.74,475.24 121.41,454.76 124.08,447.42 126.76,439.57 129.43,439.06 132.11,442.3 134.78,452.2 137.45,461.07 140.13,462.1 142.8,463.8 145.48,452.71 148.15,465.34 150.82,473.36 153.5,471.65 156.17,466.53 158.85,474.21 161.52,481.55 164.19,424.55 166.87,456.64 169.54,460.05 172.22,470.29 174.89,460.56 177.56,463.29 180.24,468.92 182.91,474.56 185.59,457.83 188.26,457.49 190.93,441.45 193.61,444.35 196.28,454.76 198.96,456.98 201.63,437.52 204.3,459.54 206.98,458 209.65,457.49 212.33,455.61 215,452.71 217.67,460.9 220.35,463.29 223.02,460.05 225.7,449.3 228.37,466.53 231.04,451.69 233.72,446.23 236.39,463.46 239.07,453.73 241.74,452.54 244.41,462.95 247.09,463.46 249.76,474.73 252.44,472.51 255.11,471.14 257.78,469.61 260.46,469.27 263.13,458.85 265.81,465.34 268.48,472.68 271.15,469.61 273.83,464.32 276.5,467.9 279.18,470.29 281.85,472.17 284.52,480.87 287.2,479.16 289.87,481.55 292.55,478.99 295.22,474.73 297.89,468.41 300.57,467.9 303.24,456.98 305.92,466.19 308.59,468.75 311.26,468.92 313.94,470.12 316.61,458.85 319.29,463.8 321.96,462.1 324.63,460.9 327.31,465.17 329.98,467.39 332.66,463.8 335.33,454.76 338,435.13 340.68,457.49 343.35,455.27 346.03,459.03 348.7,469.44 351.37,466.88 354.05,464.15 356.72,455.95 359.4,448.79 362.07,454.76 364.74,451.17 367.42,451 370.09,429.67 372.77,470.29 375.44,450.83 378.11,450.66 380.79,449.64 383.46,441.45 386.14,462.44 388.81,435.47 391.48,455.1 394.16,455.1 396.83,428.31 399.51,439.57 402.18,457.83 404.85,450.49 407.53,470.63 410.2,449.64 412.88,433.94 415.55,468.58 418.22,409.19 420.9,447.08 423.57,474.39 426.25,464.83 428.92,464.83 431.59,467.05 434.27,466.71 436.94,466.19 439.62,410.21 442.29,477.63 444.96,478.82 447.64,480.19 450.31,416.53 452.99,414.99 455.66,460.73 458.33,472.17 461.01,468.58 463.68,465.34 466.36,441.79 469.03,445.54 471.7,399.29 474.38,471.65 477.05,472.17 479.73,469.09 482.4,468.41 485.07,425.06 487.75,471.65 490.42,432.06 493.1,395.37 495.77,396.9 498.44,473.36 501.12,470.63 503.79,473.02 506.47,470.12 509.14,472 511.81,472 514.49,472 517.16,472 519.84,472 522.51,467.05 525.18,467.22 527.86,468.07 530.53,465.34 533.21,450.15 535.88,448.61 538.55,459.71 541.23,467.05 543.9,467.22 546.58,454.59 549.25,398.78 551.92,457.15 554.6,462.95 557.27,463.12 559.95,466.36 562.62,469.27 565.29,471.14 567.97,475.24 570.64,460.05 573.32,463.46 575.99,469.61 578.66,468.75 581.34,469.61 584.01,444.01 586.69,452.37 589.36,451 592.03,439.57 594.71,453.56 597.38,468.24 600.06,406.29 602.73,453.05 605.4,458.85 608.08,455.95 610.75,443.15 613.43,467.39 616.1,469.27" fill="none" stroke="#2389DC" stroke-width="1.56" stroke-linejoin="round"/>
<line x1="76" y1="378.3" x2="624" y2="378.3" stroke="#000" stroke-width="1.56"/>
<line x1="76" y1="659.9" x2="624" y2="659.9" stroke="#000" stroke-width="1.56"/>
<line x1="81.3" y1="659.9" x2="81.3" y2="667.57" stroke="#000" stroke-width="1.56"/>
<line x1="148.15" y1="659.9" x2="148.15" y2="663.84" stroke="#000" stroke-width="1.56"/>
<line x1="215" y1="659.9" x2="215" y2="667.57" stroke="#000" stroke-width="1.56"/>
<line x1="281.85" y1="659.9" x2="281.85" y2="663.84" stroke="#000" stroke-width="1.56"/>
<line x1="348.7" y1="659.9" x2="348.7" y2="667.57" stroke="#000" stroke-width="1.56"/>
<line x1="415.55" y1="659.9" x2="415.55" y2="663.84" stroke="#000" stroke-width="1.56"/>
<line x1="482.4" y1="659.9" x2="482.4" y2="667.57" stroke="#000" stroke-width="1.56"/>
<line x1="549.25" y1="659.9" x2="549.25" y2="663.84" stroke="#000" stroke-width="1.56"/>
<line x1="616.1" y1="659.9" x2="616.1" y2="667.57" stroke="#000" stroke-width="1.56"/>
<text x="81.3" y="683.9" font-size="15.35" text-anchor="middle" fill="#000" stroke="#000" stroke-width="0.28" font-family="Liberation Serif, serif">0</text>
<text x="215" y="683.9" font-size="15.35" text-anchor="middle" fill="#000" stroke="#000" stroke-width="0.28" font-family="Liberation Serif, serif">50</text>
<text x="348.7" y="683.9" font-size="15.35" text-anchor="middle" fill="#000" stroke="#000" stroke-width="0.28" font-family="Liberation Serif, serif">100</text>
<text x="482.4" y="683.9" font-size="15.35" text-anchor="middle" fill="#000" stroke="#000" stroke-width="0.28" font-family="Liberation Serif, serif">150</text>
<text x="616.1" y="683.9" font-size="15.35" text-anchor="middle" fill="#000" stroke="#000" stroke-width="0.28" font-family="Liberation Serif, serif">200</text>
<line x1="76" y1="377.52" x2="76" y2="660.68" stroke="#1C1CB4" stroke-width="1.56"/>
<line x1="68.33" y1="659.9" x2="76" y2="659.9" stroke="#1C1CB4" stroke-width="1.56"/>
<text x="62.1" y="664.96" font-size="15.35" text-anchor="end" fill="#1C1CB4" stroke="#1C1CB4" stroke-width="0.1" font-family="Liberation Serif, serif">0</text>
<line x1="72.06" y1="628.61" x2="76" y2="628.61" stroke="#1C1CB4" stroke-width="1.56"/>
<line x1="68.33" y1="597.32" x2="76" y2="597.32" stroke="#1C1CB4" stroke-width="1.56"/>
<text x="62.1" y="602.39" font-size="15.35" text-anchor="end" fill="#1C1CB4" stroke="#1C1CB4" stroke-width="0.1" font-family="Liberation Serif, serif">2000</text>
<line x1="72.06" y1="566.03" x2="76" y2="566.03" stroke="#1C1CB4" stroke-width="1.56"/>
<line x1="68.33" y1="534.74" x2="76" y2="534.74" stroke="#1C1CB4" stroke-width="1.56"/>
<text x="62.1" y="539.81" font-size="15.35" text-anchor="end" fill="#1C1CB4" stroke="#1C1CB4" stroke-width="0.1" font-family="Liberation Serif, serif">4000</text>
<line x1="72.06" y1="503.46" x2="76" y2="503.46" stroke="#1C1CB4" stroke-width="1.56"/>
<line x1="68.33" y1="472.17" x2="76" y2="472.17" stroke="#1C1CB4" stroke-width="1.56"/>
<text x="62.1" y="477.23" font-size="15.35" text-anchor="end" fill="#1C1CB4" stroke="#1C1CB4" stroke-width="0.1" font-family="Liberation Serif, serif">6000</text>
<line x1="72.06" y1="440.88" x2="76" y2="440.88" stroke="#1C1CB4" stroke-width="1.56"/>
<line x1="68.33" y1="409.59" x2="76" y2="409.59" stroke="#1C1CB4" stroke-width="1.56"/>
<text x="62.1" y="414.65" font-size="15.35" text-anchor="end" fill="#1C1CB4" stroke="#1C1CB4" stroke-width="0.1" font-family="Liberation Serif, serif">8000</text>
<line x1="72.06" y1="378.3" x2="76" y2="378.3" stroke="#1C1CB4" stroke-width="1.56"/>
<line x1="624" y1="377.52" x2="624" y2="660.68" stroke="#2F8FDD" stroke-width="1.56"/>
<line x1="624" y1="659.9" x2="631.67" y2="659.9" stroke="#2F8FDD" stroke-width="1.56"/>
<text x="637.07" y="664.96" font-size="15.35" text-anchor="start" fill="#2F8FDD" stroke="#2F8FDD" stroke-width="0.1" font-family="Liberation Serif, serif">-120</text>
<line x1="624" y1="642.83" x2="627.94" y2="642.83" stroke="#2F8FDD" stroke-width="1.56"/>
<line x1="624" y1="625.77" x2="631.67" y2="625.77" stroke="#2F8FDD" stroke-width="1.56"/>
<text x="637.07" y="630.83" font-size="15.35" text-anchor="start" fill="#2F8FDD" stroke="#2F8FDD" stroke-width="0.1" font-family="Liberation Serif, serif">-100</text>
<line x1="624" y1="608.7" x2="627.94" y2="608.7" stroke="#2F8FDD" stroke-width="1.56"/>
<line x1="624" y1="591.63" x2="631.67" y2="591.63" stroke="#2F8FDD" stroke-width="1.56"/>
<text x="637.07" y="596.7" font-size="15.35" text-anchor="start" fill="#2F8FDD" stroke="#2F8FDD" stroke-width="0.1" font-family="Liberation Serif, serif">-80</text>
<line x1="624" y1="574.57" x2="627.94" y2="574.57" stroke="#2F8FDD" stroke-width="1.56"/>
<line x1="624" y1="557.5" x2="631.67" y2="557.5" stroke="#2F8FDD" stroke-width="1.56"/>
<text x="637.07" y="562.56" font-size="15.35" text-anchor="start" fill="#2F8FDD" stroke="#2F8FDD" stroke-width="0.1" font-family="Liberation Serif, serif">-60</text>
<line x1="624" y1="540.43" x2="627.94" y2="540.43" stroke="#2F8FDD" stroke-width="1.56"/>
<line x1="624" y1="523.37" x2="631.67" y2="523.37" stroke="#2F8FDD" stroke-width="1.56"/>
<text x="637.07" y="528.43" font-size="15.35" text-anchor="start" fill="#2F8FDD" stroke="#2F8FDD" stroke-width="0.1" font-family="Liberation Serif, serif">-40</text>
<line x1="624" y1="506.3" x2="627.94" y2="506.3" stroke="#2F8FDD" stroke-width="1.56"/>
<line x1="624" y1="489.23" x2="631.67" y2="489.23" stroke="#2F8FDD" stroke-width="1.56"/>
<text x="637.07" y="494.3" font-size="15.35" text-anchor="start" fill="#2F8FDD" stroke="#2F8FDD" stroke-width="0.1" font-family="Liberation Serif, serif">-20</text>
<line x1="624" y1="472.17" x2="627.94" y2="472.17" stroke="#2F8FDD" stroke-width="1.56"/>
<line x1="624" y1="455.1" x2="631.67" y2="455.1" stroke="#2F8FDD" stroke-width="1.56"/>
<text x="637.07" y="460.16" font-size="15.35" text-anchor="start" fill="#2F8FDD" stroke="#2F8FDD" stroke-width="0.1" font-family="Liberation Serif, serif">0</text>
<line x1="624" y1="438.03" x2="627.94" y2="438.03" stroke="#2F8FDD" stroke-width="1.56"/>
<line x1="624" y1="420.97" x2="631.67" y2="420.97" stroke="#2F8FDD" stroke-width="1.56"/>
<text x="637.07" y="426.03" font-size="15.35" text-anchor="start" fill="#2F8FDD" stroke="#2F8FDD" stroke-width="0.1" font-family="Liberation Serif, serif">20</text>
<line x1="624" y1="403.9" x2="627.94" y2="403.9" stroke="#2F8FDD" stroke-width="1.56"/>
<line x1="624" y1="386.83" x2="631.67" y2="386.83" stroke="#2F8FDD" stroke-width="1.56"/>
<text x="637.07" y="391.9" font-size="15.35" text-anchor="start" fill="#2F8FDD" stroke="#2F8FDD" stroke-width="0.1" font-family="Liberation Serif, serif">40</text>
<text transform="translate(13.8,521.1) rotate(-90)" font-size="17.21" text-anchor="middle" fill="#000" stroke="#000" stroke-width="0.28" font-family="Liberation Serif, serif">USS</text>
<text transform="translate(681.5,519.1) rotate(-90)" font-size="17.21" text-anchor="middle" fill="#000" stroke="#000" stroke-width="0.28" font-family="Liberation Serif, serif">Error (%)</text>
<text x="350" y="712.3" font-size="17.21" text-anchor="middle" fill="#000" stroke="#000" stroke-width="0.28" font-family="Liberation Serif, serif">Sample Number</text>
<text x="336.5" y="745" font-size="19" text-anchor="middle" fill="#000" stroke="#000" stroke-width="0.28" font-family="Liberation Serif, serif">(b)</text>
<rect x="81.08" y="383.38" width="225.03" height="17.84" fill="#fff" stroke="#8a8a8a" stroke-width="0.93"/>
<rect x="82.84" y="385.25" width="28.21" height="13.38" fill="#0000FF" stroke="#777" stroke-width="0.52"/>
<text x="114.89" y="396.45" font-size="12.91" fill="#000" stroke="#000" stroke-width="0.28" font-family="Liberation Serif, serif">Measured</text>
<rect x="165.7" y="385.25" width="28.21" height="13.38" fill="#FBC88F" stroke="#777" stroke-width="0.52"/>
<text x="197.12" y="396.45" font-size="12.91" fill="#000" stroke="#000" stroke-width="0.28" font-family="Liberation Serif, serif">Predicted</text>
<line x1="245.65" y1="391.68" x2="274.48" y2="391.68" stroke="#2389DC" stroke-width="1.3"/>
<text x="278.53" y="396.45" font-size="12.91" fill="#000" stroke="#000" stroke-width="0.28" font-family="Liberation Serif, serif">Error</text>
<rect x="308.81" y="380.58" width="43.87" height="22.19" fill="#fff" stroke="#8a8a8a" stroke-width="0.93"/>
<text x="330.74" y="396.86" font-size="14.83" text-anchor="middle" fill="#000" stroke="#000" stroke-width="0.28" font-family="Liberation Serif, serif">NBSH</text>
</g>
<g>
<rect x="85.3" y="767.2" width="368.2" height="272.4" fill="#F8F3FA"/>
<rect x="453.5" y="767.2" width="77" height="272.4" fill="#F7FDEB"/>
<rect x="530.5" y="767.2" width="84.1" height="272.4" fill="#EEEEFC"/>
<g stroke="#303030" stroke-width="0.5"><rect x="91.79" y="972.2" width="2.58" height="67.4" fill="#DD00CC"/><rect x="91.79" y="982.58" width="2.58" height="57.02" fill="#FFFF80"/><rect x="94.38" y="964.27" width="2.58" height="75.33" fill="#DD00CC"/><rect x="94.38" y="976.55" width="2.58" height="63.05" fill="#FFFF80"/><rect x="96.96" y="1018.72" width="2.58" height="20.88" fill="#DD00CC"/><rect x="96.96" y="1019.72" width="2.58" height="19.88" fill="#FFFF80"/><rect x="99.54" y="1002.86" width="2.58" height="36.74" fill="#DD00CC"/><rect x="99.54" y="1007.71" width="2.58" height="31.89" fill="#FFFF80"/><rect x="102.13" y="967.14" width="2.58" height="72.46" fill="#DD00CC"/><rect x="102.13" y="979.53" width="2.58" height="60.07" fill="#FFFF80"/><rect x="104.71" y="972.68" width="2.58" height="66.92" fill="#DD00CC"/><rect x="104.71" y="984.19" width="2.58" height="55.41" fill="#FFFF80"/><rect x="107.29" y="928.88" width="2.58" height="110.72" fill="#DD00CC"/><rect x="107.29" y="950.58" width="2.58" height="89.02" fill="#FFFF80"/><rect x="109.88" y="989.36" width="2.58" height="50.24" fill="#DD00CC"/><rect x="109.88" y="996.19" width="2.58" height="43.41" fill="#FFFF80"/><rect x="112.46" y="918.6" width="2.58" height="121" fill="#FFFF80"/><rect x="115.04" y="892.02" width="2.58" height="147.58" fill="#FFFF80"/><rect x="117.63" y="867.93" width="2.58" height="171.67" fill="#DD00CC"/><rect x="117.63" y="870.16" width="2.58" height="169.44" fill="#FFFF80"/><rect x="120.21" y="880.16" width="2.58" height="159.44" fill="#DD00CC"/><rect x="120.21" y="880.79" width="2.58" height="158.81" fill="#FFFF80"/><rect x="122.79" y="935.24" width="2.58" height="104.36" fill="#DD00CC"/><rect x="122.79" y="955.9" width="2.58" height="83.7" fill="#FFFF80"/><rect x="125.38" y="989.36" width="2.58" height="50.24" fill="#DD00CC"/><rect x="125.38" y="994.88" width="2.58" height="44.72" fill="#FFFF80"/><rect x="127.96" y="880.17" width="2.58" height="159.43" fill="#FFFF80"/><rect x="130.54" y="902.4" width="2.58" height="137.2" fill="#FFFF80"/><rect x="133.13" y="1021.79" width="2.58" height="17.81" fill="#FFFF80"/><rect x="135.71" y="1020.78" width="2.58" height="18.82" fill="#FFFF80"/><rect x="138.29" y="1020.7" width="2.58" height="18.9" fill="#FFFF80"/><rect x="140.88" y="1021.67" width="2.58" height="17.93" fill="#FFFF80"/><rect x="143.46" y="1016.42" width="2.58" height="23.18" fill="#DD00CC"/><rect x="143.46" y="1016.72" width="2.58" height="22.88" fill="#FFFF80"/><rect x="146.05" y="1015.21" width="2.58" height="24.39" fill="#DD00CC"/><rect x="146.05" y="1015.89" width="2.58" height="23.71" fill="#FFFF80"/><rect x="148.63" y="1013.69" width="2.58" height="25.91" fill="#DD00CC"/><rect x="148.63" y="1014.78" width="2.58" height="24.82" fill="#FFFF80"/><rect x="151.21" y="1022.02" width="2.58" height="17.58" fill="#DD00CC"/><rect x="151.21" y="1022.14" width="2.58" height="17.46" fill="#FFFF80"/><rect x="153.8" y="1011.36" width="2.58" height="28.24" fill="#DD00CC"/><rect x="153.8" y="1014.27" width="2.58" height="25.33" fill="#FFFF80"/><rect x="156.38" y="996.23" width="2.58" height="43.37" fill="#DD00CC"/><rect x="156.38" y="1002.13" width="2.58" height="37.47" fill="#FFFF80"/><rect x="158.96" y="1001.07" width="2.58" height="38.53" fill="#DD00CC"/><rect x="158.96" y="1005.46" width="2.58" height="34.14" fill="#FFFF80"/><rect x="161.55" y="1009.97" width="2.58" height="29.63" fill="#DD00CC"/><rect x="161.55" y="1012.52" width="2.58" height="27.08" fill="#FFFF80"/><rect x="164.13" y="993.2" width="2.58" height="46.4" fill="#DD00CC"/><rect x="164.13" y="999.7" width="2.58" height="39.9" fill="#FFFF80"/><rect x="166.71" y="936.24" width="2.58" height="103.36" fill="#DD00CC"/><rect x="166.71" y="956.29" width="2.58" height="83.31" fill="#FFFF80"/><rect x="169.3" y="938.72" width="2.58" height="100.88" fill="#FFFF80"/><rect x="171.88" y="1013.9" width="2.58" height="25.7" fill="#DD00CC"/><rect x="171.88" y="1014.47" width="2.58" height="25.13" fill="#FFFF80"/><rect x="174.46" y="1017.23" width="2.58" height="22.37" fill="#DD00CC"/><rect x="174.46" y="1017.97" width="2.58" height="21.63" fill="#FFFF80"/><rect x="177.05" y="993.2" width="2.58" height="46.4" fill="#DD00CC"/><rect x="177.05" y="998.49" width="2.58" height="41.11" fill="#FFFF80"/><rect x="179.63" y="1010.15" width="2.58" height="29.45" fill="#DD00CC"/><rect x="179.63" y="1011.06" width="2.58" height="28.54" fill="#FFFF80"/><rect x="182.21" y="1014.42" width="2.58" height="25.18" fill="#DD00CC"/><rect x="182.21" y="1015.15" width="2.58" height="24.45" fill="#FFFF80"/><rect x="184.8" y="1004.79" width="2.58" height="34.81" fill="#DD00CC"/><rect x="184.8" y="1008.76" width="2.58" height="30.84" fill="#FFFF80"/><rect x="187.38" y="992.17" width="2.58" height="47.43" fill="#DD00CC"/><rect x="187.38" y="998.62" width="2.58" height="40.98" fill="#FFFF80"/><rect x="189.96" y="1018.75" width="2.58" height="20.85" fill="#DD00CC"/><rect x="189.96" y="1018.83" width="2.58" height="20.77" fill="#FFFF80"/><rect x="192.55" y="1019.22" width="2.58" height="20.38" fill="#FFFF80"/><rect x="195.13" y="1025.94" width="2.58" height="13.66" fill="#FFFF80"/><rect x="197.72" y="1023.64" width="2.58" height="15.96" fill="#FFFF80"/><rect x="200.3" y="1020.66" width="2.58" height="18.94" fill="#DD00CC"/><rect x="200.3" y="1021.1" width="2.58" height="18.5" fill="#FFFF80"/><rect x="202.88" y="1019.62" width="2.58" height="19.98" fill="#DD00CC"/><rect x="202.88" y="1019.76" width="2.58" height="19.84" fill="#FFFF80"/><rect x="205.47" y="1026.47" width="2.58" height="13.13" fill="#FFFF80"/><rect x="208.05" y="1011.21" width="2.58" height="28.39" fill="#DD00CC"/><rect x="208.05" y="1011.64" width="2.58" height="27.96" fill="#FFFF80"/><rect x="210.63" y="1018.54" width="2.58" height="21.06" fill="#FFFF80"/><rect x="213.22" y="1019.14" width="2.58" height="20.46" fill="#FFFF80"/><rect x="215.8" y="1014.77" width="2.58" height="24.83" fill="#FFFF80"/><rect x="218.38" y="1016.68" width="2.58" height="22.92" fill="#FFFF80"/><rect x="220.97" y="1009.94" width="2.58" height="29.66" fill="#DD00CC"/><rect x="220.97" y="1010.53" width="2.58" height="29.07" fill="#FFFF80"/><rect x="223.55" y="1014.87" width="2.58" height="24.73" fill="#DD00CC"/><rect x="223.55" y="1016.16" width="2.58" height="23.44" fill="#FFFF80"/><rect x="226.13" y="1018.44" width="2.58" height="21.16" fill="#DD00CC"/><rect x="226.13" y="1019.23" width="2.58" height="20.37" fill="#FFFF80"/><rect x="228.72" y="1022.7" width="2.58" height="16.9" fill="#FFFF80"/><rect x="231.3" y="1010.24" width="2.58" height="29.36" fill="#DD00CC"/><rect x="231.3" y="1012.38" width="2.58" height="27.22" fill="#FFFF80"/><rect x="233.88" y="1021.45" width="2.58" height="18.15" fill="#FFFF80"/><rect x="236.47" y="1023.91" width="2.58" height="15.69" fill="#FFFF80"/><rect x="239.05" y="1014.39" width="2.58" height="25.21" fill="#DD00CC"/><rect x="239.05" y="1015.5" width="2.58" height="24.1" fill="#FFFF80"/><rect x="241.63" y="1020.77" width="2.58" height="18.83" fill="#DD00CC"/><rect x="241.63" y="1021.02" width="2.58" height="18.58" fill="#FFFF80"/><rect x="244.22" y="1021.86" width="2.58" height="17.74" fill="#DD00CC"/><rect x="244.22" y="1022.12" width="2.58" height="17.48" fill="#FFFF80"/><rect x="246.8" y="1014.87" width="2.58" height="24.73" fill="#DD00CC"/><rect x="246.8" y="1016.23" width="2.58" height="23.37" fill="#FFFF80"/><rect x="249.39" y="1014.69" width="2.58" height="24.91" fill="#DD00CC"/><rect x="249.39" y="1016.61" width="2.58" height="22.99" fill="#FFFF80"/><rect x="251.97" y="977.86" width="2.58" height="61.74" fill="#DD00CC"/><rect x="251.97" y="986.56" width="2.58" height="53.04" fill="#FFFF80"/><rect x="254.55" y="988.27" width="2.58" height="51.33" fill="#DD00CC"/><rect x="254.55" y="994.94" width="2.58" height="44.66" fill="#FFFF80"/><rect x="257.14" y="991.42" width="2.58" height="48.18" fill="#DD00CC"/><rect x="257.14" y="997.68" width="2.58" height="41.92" fill="#FFFF80"/><rect x="259.72" y="995.38" width="2.58" height="44.22" fill="#DD00CC"/><rect x="259.72" y="1000.86" width="2.58" height="38.74" fill="#FFFF80"/><rect x="262.3" y="1004.88" width="2.58" height="34.72" fill="#DD00CC"/><rect x="262.3" y="1007.7" width="2.58" height="31.9" fill="#FFFF80"/><rect x="264.89" y="1018.56" width="2.58" height="21.04" fill="#DD00CC"/><rect x="264.89" y="1019.3" width="2.58" height="20.3" fill="#FFFF80"/><rect x="267.47" y="1013.63" width="2.58" height="25.97" fill="#DD00CC"/><rect x="267.47" y="1014.54" width="2.58" height="25.06" fill="#FFFF80"/><rect x="270.05" y="998.47" width="2.58" height="41.13" fill="#DD00CC"/><rect x="270.05" y="1003.73" width="2.58" height="35.87" fill="#FFFF80"/><rect x="272.64" y="1005.7" width="2.58" height="33.9" fill="#DD00CC"/><rect x="272.64" y="1008.68" width="2.58" height="30.92" fill="#FFFF80"/><rect x="275.22" y="1013.33" width="2.58" height="26.27" fill="#DD00CC"/><rect x="275.22" y="1014.38" width="2.58" height="25.22" fill="#FFFF80"/><rect x="277.8" y="1007.97" width="2.58" height="31.63" fill="#DD00CC"/><rect x="277.8" y="1011.48" width="2.58" height="28.12" fill="#FFFF80"/><rect x="280.39" y="1003.22" width="2.58" height="36.38" fill="#DD00CC"/><rect x="280.39" y="1007.22" width="2.58" height="32.38" fill="#FFFF80"/><rect x="282.97" y="999.07" width="2.58" height="40.53" fill="#DD00CC"/><rect x="282.97" y="1003.77" width="2.58" height="35.83" fill="#FFFF80"/><rect x="285.55" y="961.36" width="2.58" height="78.24" fill="#DD00CC"/><rect x="285.55" y="975.99" width="2.58" height="63.61" fill="#FFFF80"/><rect x="288.14" y="978.7" width="2.58" height="60.9" fill="#DD00CC"/><rect x="288.14" y="989.6" width="2.58" height="50" fill="#FFFF80"/><rect x="290.72" y="952.46" width="2.58" height="87.14" fill="#DD00CC"/><rect x="290.72" y="969.72" width="2.58" height="69.88" fill="#FFFF80"/><rect x="293.3" y="973.04" width="2.58" height="66.56" fill="#DD00CC"/><rect x="293.3" y="984.96" width="2.58" height="54.64" fill="#FFFF80"/><rect x="295.89" y="991.84" width="2.58" height="47.76" fill="#DD00CC"/><rect x="295.89" y="998.48" width="2.58" height="41.12" fill="#FFFF80"/><rect x="298.47" y="1007.97" width="2.58" height="31.63" fill="#DD00CC"/><rect x="298.47" y="1010.98" width="2.58" height="28.62" fill="#FFFF80"/><rect x="301.06" y="1008.67" width="2.58" height="30.93" fill="#DD00CC"/><rect x="301.06" y="1010.93" width="2.58" height="28.67" fill="#FFFF80"/><rect x="303.64" y="1019.48" width="2.58" height="20.12" fill="#FFFF80"/><rect x="306.22" y="1010.94" width="2.58" height="28.66" fill="#DD00CC"/><rect x="306.22" y="1012.92" width="2.58" height="26.68" fill="#FFFF80"/><rect x="308.81" y="1006.97" width="2.58" height="32.63" fill="#DD00CC"/><rect x="308.81" y="1010.79" width="2.58" height="28.81" fill="#FFFF80"/><rect x="311.39" y="1006.88" width="2.58" height="32.72" fill="#DD00CC"/><rect x="311.39" y="1010.61" width="2.58" height="28.99" fill="#FFFF80"/><rect x="313.97" y="994.81" width="2.58" height="44.79" fill="#DD00CC"/><rect x="313.97" y="1000.54" width="2.58" height="39.06" fill="#FFFF80"/><rect x="316.56" y="1018.87" width="2.58" height="20.73" fill="#DD00CC"/><rect x="316.56" y="1019.66" width="2.58" height="19.94" fill="#FFFF80"/><rect x="319.14" y="1013.63" width="2.58" height="25.97" fill="#DD00CC"/><rect x="319.14" y="1016.1" width="2.58" height="23.5" fill="#FFFF80"/><rect x="321.72" y="1015.11" width="2.58" height="24.49" fill="#DD00CC"/><rect x="321.72" y="1017.27" width="2.58" height="22.33" fill="#FFFF80"/><rect x="324.31" y="1016.6" width="2.58" height="23" fill="#DD00CC"/><rect x="324.31" y="1017.7" width="2.58" height="21.9" fill="#FFFF80"/><rect x="326.89" y="1011.82" width="2.58" height="27.78" fill="#DD00CC"/><rect x="326.89" y="1014.2" width="2.58" height="25.4" fill="#FFFF80"/><rect x="329.47" y="1009.73" width="2.58" height="29.87" fill="#DD00CC"/><rect x="329.47" y="1011.82" width="2.58" height="27.78" fill="#FFFF80"/><rect x="332.06" y="1006.55" width="2.58" height="33.05" fill="#DD00CC"/><rect x="332.06" y="1008.5" width="2.58" height="31.1" fill="#FFFF80"/><rect x="334.64" y="1015.01" width="2.58" height="24.59" fill="#DD00CC"/><rect x="334.64" y="1015.38" width="2.58" height="24.22" fill="#FFFF80"/><rect x="337.22" y="1022.98" width="2.58" height="16.62" fill="#FFFF80"/><rect x="339.81" y="1018.1" width="2.58" height="21.5" fill="#FFFF80"/><rect x="342.39" y="1020.04" width="2.58" height="19.56" fill="#FFFF80"/><rect x="344.97" y="1017.63" width="2.58" height="21.97" fill="#DD00CC"/><rect x="344.97" y="1018.59" width="2.58" height="21.01" fill="#FFFF80"/><rect x="347.56" y="1005.76" width="2.58" height="33.84" fill="#DD00CC"/><rect x="347.56" y="1009.79" width="2.58" height="29.81" fill="#FFFF80"/><rect x="350.14" y="1010.03" width="2.58" height="29.57" fill="#DD00CC"/><rect x="350.14" y="1013.08" width="2.58" height="26.52" fill="#FFFF80"/><rect x="352.73" y="1006.55" width="2.58" height="33.05" fill="#DD00CC"/><rect x="352.73" y="1008.96" width="2.58" height="30.64" fill="#FFFF80"/><rect x="355.31" y="1014.75" width="2.58" height="24.85" fill="#DD00CC"/><rect x="355.31" y="1015.2" width="2.58" height="24.4" fill="#FFFF80"/><rect x="357.89" y="1019.01" width="2.58" height="20.59" fill="#FFFF80"/><rect x="360.48" y="1020.37" width="2.58" height="19.23" fill="#FFFF80"/><rect x="363.06" y="1022.7" width="2.58" height="16.9" fill="#FFFF80"/><rect x="365.64" y="1022.56" width="2.58" height="17.04" fill="#FFFF80"/><rect x="368.23" y="1027.01" width="2.58" height="12.59" fill="#FFFF80"/><rect x="370.81" y="1005.07" width="2.58" height="34.53" fill="#DD00CC"/><rect x="370.81" y="1008.48" width="2.58" height="31.12" fill="#FFFF80"/><rect x="373.39" y="1022.64" width="2.58" height="16.96" fill="#FFFF80"/><rect x="375.98" y="1022.23" width="2.58" height="17.37" fill="#FFFF80"/><rect x="378.56" y="1022.64" width="2.58" height="16.96" fill="#FFFF80"/><rect x="381.14" y="1025.79" width="2.58" height="13.81" fill="#FFFF80"/><rect x="383.73" y="1014.96" width="2.58" height="24.64" fill="#DD00CC"/><rect x="383.73" y="1016.91" width="2.58" height="22.69" fill="#FFFF80"/><rect x="386.31" y="1021.42" width="2.58" height="18.18" fill="#FFFF80"/><rect x="388.89" y="1020.28" width="2.58" height="19.32" fill="#FFFF80"/><rect x="391.48" y="1020.65" width="2.58" height="18.95" fill="#DD00CC"/><rect x="391.48" y="1020.82" width="2.58" height="18.78" fill="#FFFF80"/><rect x="394.06" y="1012.92" width="2.58" height="26.68" fill="#FFFF80"/><rect x="396.64" y="1025.28" width="2.58" height="14.32" fill="#FFFF80"/><rect x="399.23" y="1018.67" width="2.58" height="20.93" fill="#FFFF80"/><rect x="401.81" y="1022.65" width="2.58" height="16.95" fill="#FFFF80"/><rect x="404.4" y="1003.07" width="2.58" height="36.53" fill="#DD00CC"/><rect x="404.4" y="1006.68" width="2.58" height="32.92" fill="#FFFF80"/><rect x="406.98" y="1023.25" width="2.58" height="16.35" fill="#FFFF80"/><rect x="409.56" y="1025.53" width="2.58" height="14.07" fill="#FFFF80"/><rect x="412.15" y="1008" width="2.58" height="31.6" fill="#DD00CC"/><rect x="412.15" y="1011.7" width="2.58" height="27.9" fill="#FFFF80"/><rect x="414.73" y="1029.17" width="2.58" height="10.43" fill="#FFFF80"/><rect x="417.31" y="1023.7" width="2.58" height="15.9" fill="#FFFF80"/><rect x="419.9" y="993.66" width="2.58" height="45.94" fill="#DD00CC"/><rect x="419.9" y="1000.73" width="2.58" height="38.87" fill="#FFFF80"/><rect x="422.48" y="1012.15" width="2.58" height="27.45" fill="#DD00CC"/><rect x="422.48" y="1014.98" width="2.58" height="24.62" fill="#FFFF80"/><rect x="425.06" y="1012.97" width="2.58" height="26.63" fill="#DD00CC"/><rect x="425.06" y="1014.32" width="2.58" height="25.28" fill="#FFFF80"/><rect x="427.65" y="1009.79" width="2.58" height="29.81" fill="#DD00CC"/><rect x="427.65" y="1012.53" width="2.58" height="27.07" fill="#FFFF80"/><rect x="430.23" y="1010.48" width="2.58" height="29.12" fill="#DD00CC"/><rect x="430.23" y="1012.99" width="2.58" height="26.61" fill="#FFFF80"/><rect x="432.81" y="1010.79" width="2.58" height="28.81" fill="#DD00CC"/><rect x="432.81" y="1013.21" width="2.58" height="26.39" fill="#FFFF80"/><rect x="435.4" y="1025.63" width="2.58" height="13.97" fill="#FFFF80"/><rect x="437.98" y="976.83" width="2.58" height="62.77" fill="#DD00CC"/><rect x="437.98" y="987.37" width="2.58" height="52.23" fill="#FFFF80"/><rect x="440.56" y="973.38" width="2.58" height="66.22" fill="#DD00CC"/><rect x="440.56" y="985.03" width="2.58" height="54.57" fill="#FFFF80"/><rect x="443.15" y="957.34" width="2.58" height="82.26" fill="#DD00CC"/><rect x="443.15" y="972.55" width="2.58" height="67.05" fill="#FFFF80"/><rect x="445.73" y="1025.16" width="2.58" height="14.44" fill="#FFFF80"/><rect x="448.31" y="1025.63" width="2.58" height="13.97" fill="#FFFF80"/><rect x="450.9" y="1016.42" width="2.58" height="23.18" fill="#DD00CC"/><rect x="450.9" y="1017.11" width="2.58" height="22.49" fill="#FFFF80"/><rect x="453.48" y="967.44" width="2.58" height="72.16" fill="#DD00CC"/><rect x="453.48" y="977.76" width="2.58" height="61.84" fill="#FFFF80"/><rect x="456.07" y="998.23" width="2.58" height="41.37" fill="#DD00CC"/><rect x="456.07" y="1002.94" width="2.58" height="36.66" fill="#FFFF80"/><rect x="458.65" y="1006.55" width="2.58" height="33.05" fill="#DD00CC"/><rect x="458.65" y="1009.16" width="2.58" height="30.44" fill="#FFFF80"/><rect x="461.23" y="940.1" width="2.58" height="99.5" fill="#DD00CC"/><rect x="461.23" y="956.51" width="2.58" height="83.09" fill="#FFFF80"/><rect x="463.82" y="1021.01" width="2.58" height="18.59" fill="#FFFF80"/><rect x="466.4" y="1035.29" width="2.58" height="4.31" fill="#FFFF80"/><rect x="468.98" y="994.99" width="2.58" height="44.61" fill="#DD00CC"/><rect x="468.98" y="1000.88" width="2.58" height="38.72" fill="#FFFF80"/><rect x="471.57" y="966.32" width="2.58" height="73.28" fill="#DD00CC"/><rect x="471.57" y="977.32" width="2.58" height="62.28" fill="#FFFF80"/><rect x="474.15" y="992.44" width="2.58" height="47.16" fill="#DD00CC"/><rect x="474.15" y="998.29" width="2.58" height="41.31" fill="#FFFF80"/><rect x="476.73" y="995.53" width="2.58" height="44.07" fill="#DD00CC"/><rect x="476.73" y="1000.2" width="2.58" height="39.4" fill="#FFFF80"/><rect x="479.32" y="952.55" width="2.58" height="87.05" fill="#FFFF80"/><rect x="481.9" y="974.8" width="2.58" height="64.8" fill="#DD00CC"/><rect x="481.9" y="984.26" width="2.58" height="55.34" fill="#FFFF80"/><rect x="484.48" y="1026.06" width="2.58" height="13.54" fill="#FFFF80"/><rect x="487.07" y="1036.17" width="2.58" height="3.43" fill="#FFFF80"/><rect x="489.65" y="1034.51" width="2.58" height="5.09" fill="#FFFF80"/><rect x="492.23" y="952.31" width="2.58" height="87.29" fill="#DD00CC"/><rect x="492.23" y="966.02" width="2.58" height="73.58" fill="#FFFF80"/><rect x="494.82" y="985.82" width="2.58" height="53.78" fill="#DD00CC"/><rect x="494.82" y="992.22" width="2.58" height="47.38" fill="#FFFF80"/><rect x="497.4" y="971.29" width="2.58" height="68.31" fill="#DD00CC"/><rect x="497.4" y="980.37" width="2.58" height="59.23" fill="#FFFF80"/><rect x="499.98" y="969.62" width="2.58" height="69.98" fill="#DD00CC"/><rect x="499.98" y="978.3" width="2.58" height="61.3" fill="#FFFF80"/><rect x="502.57" y="969.62" width="2.58" height="69.98" fill="#DD00CC"/><rect x="502.57" y="978.3" width="2.58" height="61.3" fill="#FFFF80"/><rect x="505.15" y="969.62" width="2.58" height="69.98" fill="#DD00CC"/><rect x="505.15" y="978.93" width="2.58" height="60.67" fill="#FFFF80"/><rect x="507.74" y="969.62" width="2.58" height="69.98" fill="#DD00CC"/><rect x="507.74" y="979.14" width="2.58" height="60.46" fill="#FFFF80"/><rect x="510.32" y="969.62" width="2.58" height="69.98" fill="#DD00CC"/><rect x="510.32" y="980.4" width="2.58" height="59.2" fill="#FFFF80"/><rect x="512.9" y="972.92" width="2.58" height="66.68" fill="#DD00CC"/><rect x="512.9" y="982.32" width="2.58" height="57.28" fill="#FFFF80"/><rect x="515.49" y="989.45" width="2.58" height="50.15" fill="#DD00CC"/><rect x="515.49" y="994.86" width="2.58" height="44.74" fill="#FFFF80"/><rect x="518.07" y="989.12" width="2.58" height="50.48" fill="#DD00CC"/><rect x="518.07" y="994.67" width="2.58" height="44.93" fill="#FFFF80"/><rect x="520.65" y="986.15" width="2.58" height="53.45" fill="#DD00CC"/><rect x="520.65" y="991.92" width="2.58" height="47.68" fill="#FFFF80"/><rect x="523.24" y="997.95" width="2.58" height="41.65" fill="#DD00CC"/><rect x="523.24" y="1001.78" width="2.58" height="37.82" fill="#FFFF80"/><rect x="525.82" y="1018.47" width="2.58" height="21.13" fill="#FFFF80"/><rect x="528.4" y="1020.44" width="2.58" height="19.16" fill="#FFFF80"/><rect x="530.99" y="1016.29" width="2.58" height="23.31" fill="#FFFF80"/><rect x="533.57" y="1002.19" width="2.58" height="37.41" fill="#DD00CC"/><rect x="533.57" y="1006.16" width="2.58" height="33.44" fill="#FFFF80"/><rect x="536.15" y="998.65" width="2.58" height="40.95" fill="#DD00CC"/><rect x="536.15" y="1003.32" width="2.58" height="36.28" fill="#FFFF80"/><rect x="538.74" y="1016.91" width="2.58" height="22.69" fill="#FFFF80"/><rect x="541.32" y="984" width="2.58" height="55.6" fill="#FFFF80"/><rect x="543.9" y="1013.27" width="2.58" height="26.33" fill="#DD00CC"/><rect x="543.9" y="1013.95" width="2.58" height="25.65" fill="#FFFF80"/><rect x="546.49" y="1001.95" width="2.58" height="37.65" fill="#DD00CC"/><rect x="546.49" y="1004.17" width="2.58" height="35.43" fill="#FFFF80"/><rect x="549.07" y="1011.12" width="2.58" height="28.48" fill="#DD00CC"/><rect x="549.07" y="1013.74" width="2.58" height="25.86" fill="#FFFF80"/><rect x="551.65" y="1002.83" width="2.58" height="36.77" fill="#DD00CC"/><rect x="551.65" y="1005.92" width="2.58" height="33.68" fill="#FFFF80"/><rect x="554.24" y="991.63" width="2.58" height="47.97" fill="#DD00CC"/><rect x="554.24" y="997.43" width="2.58" height="42.17" fill="#FFFF80"/><rect x="556.82" y="979.94" width="2.58" height="59.66" fill="#DD00CC"/><rect x="556.82" y="988.3" width="2.58" height="51.3" fill="#FFFF80"/><rect x="559.41" y="904.73" width="2.58" height="134.87" fill="#DD00CC"/><rect x="559.41" y="927.39" width="2.58" height="112.21" fill="#FFFF80"/><rect x="561.99" y="1008.82" width="2.58" height="30.78" fill="#DD00CC"/><rect x="561.99" y="1009.71" width="2.58" height="29.89" fill="#FFFF80"/><rect x="564.57" y="1001.31" width="2.58" height="38.29" fill="#DD00CC"/><rect x="564.57" y="1004.61" width="2.58" height="34.99" fill="#FFFF80"/><rect x="567.16" y="989.08" width="2.58" height="50.52" fill="#DD00CC"/><rect x="567.16" y="995.9" width="2.58" height="43.7" fill="#FFFF80"/><rect x="569.74" y="994.2" width="2.58" height="45.4" fill="#DD00CC"/><rect x="569.74" y="999.19" width="2.58" height="40.41" fill="#FFFF80"/><rect x="572.32" y="988.45" width="2.58" height="51.15" fill="#DD00CC"/><rect x="572.32" y="995" width="2.58" height="44.6" fill="#FFFF80"/><rect x="574.91" y="1025.58" width="2.58" height="14.02" fill="#FFFF80"/><rect x="577.49" y="1021.91" width="2.58" height="17.69" fill="#FFFF80"/><rect x="580.07" y="1023.06" width="2.58" height="16.54" fill="#FFFF80"/><rect x="582.66" y="1026.49" width="2.58" height="13.11" fill="#FFFF80"/><rect x="585.24" y="1022.08" width="2.58" height="17.52" fill="#FFFF80"/><rect x="587.82" y="998.38" width="2.58" height="41.22" fill="#DD00CC"/><rect x="587.82" y="1003.45" width="2.58" height="36.15" fill="#FFFF80"/><rect x="590.41" y="1029" width="2.58" height="10.6" fill="#FFFF80"/><rect x="592.99" y="1021.24" width="2.58" height="18.36" fill="#FFFF80"/><rect x="595.57" y="1017.48" width="2.58" height="22.12" fill="#DD00CC"/><rect x="595.57" y="1018.69" width="2.58" height="20.91" fill="#FFFF80"/><rect x="598.16" y="1019.45" width="2.58" height="20.15" fill="#FFFF80"/><rect x="600.74" y="1026.26" width="2.58" height="13.34" fill="#FFFF80"/><rect x="603.32" y="1000.92" width="2.58" height="38.68" fill="#DD00CC"/><rect x="603.32" y="1005.02" width="2.58" height="34.58" fill="#FFFF80"/><rect x="605.91" y="991.39" width="2.58" height="48.21" fill="#DD00CC"/><rect x="605.91" y="997.32" width="2.58" height="42.28" fill="#FFFF80"/></g>
<line x1="453.5" y1="767.2" x2="453.5" y2="1039.6" stroke="#333" stroke-width="1"/>
<line x1="530.5" y1="767.2" x2="530.5" y2="1039.6" stroke="#333" stroke-width="1"/>
<polyline points="92.58,860.96 95.17,862.25 97.75,845.77 100.33,857.81 102.92,863.4 105.5,863.54 108.08,866.98 110.67,858.38 113.25,822.11 115.84,833.58 118.42,840.75 121,839.46 123.59,867.27 126.17,854.65 128.75,838.31 131.34,831.57 133.92,826.27 136.5,815.52 139.09,826.27 141.67,838.31 144.25,840.75 146.84,842.9 149.42,844.91 152,839.89 154.59,853.65 157.17,858.38 159.75,855.23 162.34,851.21 164.92,858.96 167.5,866.7 170.09,805.19 172.67,842.04 175.26,843.62 177.84,855.23 180.42,843.33 183.01,843.04 185.59,855.23 188.17,858.38 190.76,839.46 193.34,837.31 195.92,832 198.51,821.25 201.09,842.18 203.67,839.89 206.26,823.11 208.84,841.03 211.42,838.31 214.01,838.88 216.59,838.31 219.18,837.02 221.76,841.75 224.34,846.34 226.93,844.19 229.51,827.84 232.09,849.35 234.68,834.87 237.26,834.44 239.84,845.19 242.43,840.75 245.01,841.03 247.59,846.77 250.18,849.92 252.76,859.1 255.34,857.52 257.93,857.52 260.51,856.66 263.09,850.5 265.68,843.9 268.26,843.9 270.85,857.24 273.43,851.5 276.01,844.62 278.6,854.8 281.18,854.65 283.76,855.51 286.35,865.69 288.93,864.55 291.51,867.27 294.1,864.55 296.68,858.81 299.26,852.5 301.85,849.35 304.43,838.31 307.01,848.78 309.6,855.66 312.18,855.23 314.76,857.24 317.35,844.33 319.93,852.5 322.52,851.5 325.1,845.77 327.68,851.21 330.27,848.92 332.85,847.34 335.43,841.03 338.02,824.98 340.6,827.27 343.18,834.73 345.77,845.19 348.35,855.95 350.93,853.65 353.52,849.35 356.1,841.46 358.68,836.3 361.27,838.31 363.85,838.31 366.43,835.16 369.02,810.5 371.6,853.08 374.19,835.73 376.77,832 379.35,834.73 381.94,830 384.52,850.21 387.1,810.5 389.69,837.88 392.27,840.17 394.85,795.3 397.44,822.11 400.02,837.31 402.6,833.15 405.19,853.08 407.77,828.85 410.35,805.19 412.94,855.66 415.52,789.42 418.1,832.58 420.69,860.96 423.27,853.65 425.86,846.2 428.44,852.07 431.02,851.21 433.61,850.93 436.19,787.41 438.77,862.97 441.36,864.12 443.94,865.41 446.52,791.29 449.11,791.72 451.69,843.19 454.27,859.39 456.86,855.23 459.44,850.21 462.02,862.54 464.61,827.27 467.19,795.3 469.77,857.81 472.36,860.39 474.94,856.66 477.53,854.08 480.11,801.03 482.69,859.82 485.28,805.19 487.86,793.15 490.44,796.59 493.03,861.39 495.61,855.95 498.19,857.95 500.78,856.66 503.36,856.66 505.94,857.95 508.53,858.38 511.11,860.96 513.69,859.1 516.28,854.37 518.86,854.65 521.44,854.37 524.03,852.07 526.61,828.56 529.2,834.15 531.78,835.44 534.36,854.08 536.95,855.23 539.53,838.88 542.11,791.57 544.7,842.61 547.28,847.34 549.86,852.07 552.45,850.93 555.03,856.23 557.61,858.96 560.2,862.97 562.78,843.04 565.36,851.21 567.95,858.24 570.53,854.65 573.11,857.24 575.7,817.38 578.28,831 580.87,832 583.45,816.23 586.03,838.88 588.62,856.52 591.2,787.85 593.78,831.57 596.37,846.77 598.95,836.73 601.53,824.69 604.12,854.08 606.7,856.52" fill="none" stroke="#9470BE" stroke-width="1.5" stroke-linejoin="round"/>
<line x1="85.3" y1="767.2" x2="614.6" y2="767.2" stroke="#000" stroke-width="1.5"/>
<line x1="85.3" y1="1039.6" x2="614.6" y2="1039.6" stroke="#000" stroke-width="1.5"/>
<line x1="90" y1="1039.6" x2="90" y2="1047" stroke="#000" stroke-width="1.5"/>
<line x1="154.59" y1="1039.6" x2="154.59" y2="1043.4" stroke="#000" stroke-width="1.5"/>
<line x1="219.18" y1="1039.6" x2="219.18" y2="1047" stroke="#000" stroke-width="1.5"/>
<line x1="283.76" y1="1039.6" x2="283.76" y2="1043.4" stroke="#000" stroke-width="1.5"/>
<line x1="348.35" y1="1039.6" x2="348.35" y2="1047" stroke="#000" stroke-width="1.5"/>
<line x1="412.94" y1="1039.6" x2="412.94" y2="1043.4" stroke="#000" stroke-width="1.5"/>
<line x1="477.53" y1="1039.6" x2="477.53" y2="1047" stroke="#000" stroke-width="1.5"/>
<line x1="542.11" y1="1039.6" x2="542.11" y2="1043.4" stroke="#000" stroke-width="1.5"/>
<line x1="606.7" y1="1039.6" x2="606.7" y2="1047" stroke="#000" stroke-width="1.5"/>
<text x="90" y="1063.6" font-size="14.8" text-anchor="middle" fill="#000" stroke="#000" stroke-width="0.28" font-family="Liberation Serif, serif">0</text>
<text x="219.18" y="1063.6" font-size="14.8" text-anchor="middle" fill="#000" stroke="#000" stroke-width="0.28" font-family="Liberation Serif, serif">50</text>
<text x="348.35" y="1063.6" font-size="14.8" text-anchor="middle" fill="#000" stroke="#000" stroke-width="0.28" font-family="Liberation Serif, serif">100</text>
<text x="477.53" y="1063.6" font-size="14.8" text-anchor="middle" fill="#000" stroke="#000" stroke-width="0.28" font-family="Liberation Serif, serif">150</text>
<text x="606.7" y="1063.6" font-size="14.8" text-anchor="middle" fill="#000" stroke="#000" stroke-width="0.28" font-family="Liberation Serif, serif">200</text>
<line x1="85.3" y1="766.45" x2="85.3" y2="1040.35" stroke="#990099" stroke-width="1.5"/>
<line x1="77.9" y1="1039.6" x2="85.3" y2="1039.6" stroke="#990099" stroke-width="1.5"/>
<text x="71.9" y="1044.48" font-size="14.8" text-anchor="end" fill="#990099" stroke="#990099" stroke-width="0.1" font-family="Liberation Serif, serif">0</text>
<line x1="81.5" y1="1009.33" x2="85.3" y2="1009.33" stroke="#990099" stroke-width="1.5"/>
<line x1="77.9" y1="979.07" x2="85.3" y2="979.07" stroke="#990099" stroke-width="1.5"/>
<text x="71.9" y="983.95" font-size="14.8" text-anchor="end" fill="#990099" stroke="#990099" stroke-width="0.1" font-family="Liberation Serif, serif">2000</text>
<line x1="81.5" y1="948.8" x2="85.3" y2="948.8" stroke="#990099" stroke-width="1.5"/>
<line x1="77.9" y1="918.53" x2="85.3" y2="918.53" stroke="#990099" stroke-width="1.5"/>
<text x="71.9" y="923.42" font-size="14.8" text-anchor="end" fill="#990099" stroke="#990099" stroke-width="0.1" font-family="Liberation Serif, serif">4000</text>
<line x1="81.5" y1="888.27" x2="85.3" y2="888.27" stroke="#990099" stroke-width="1.5"/>
<line x1="77.9" y1="858" x2="85.3" y2="858" stroke="#990099" stroke-width="1.5"/>
<text x="71.9" y="862.88" font-size="14.8" text-anchor="end" fill="#990099" stroke="#990099" stroke-width="0.1" font-family="Liberation Serif, serif">6000</text>
<line x1="81.5" y1="827.73" x2="85.3" y2="827.73" stroke="#990099" stroke-width="1.5"/>
<line x1="77.9" y1="797.47" x2="85.3" y2="797.47" stroke="#990099" stroke-width="1.5"/>
<text x="71.9" y="802.35" font-size="14.8" text-anchor="end" fill="#990099" stroke="#990099" stroke-width="0.1" font-family="Liberation Serif, serif">8000</text>
<line x1="81.5" y1="767.2" x2="85.3" y2="767.2" stroke="#990099" stroke-width="1.5"/>
<line x1="614.6" y1="766.45" x2="614.6" y2="1040.35" stroke="#9A7DC6" stroke-width="1.5"/>
<line x1="614.6" y1="1039.6" x2="622" y2="1039.6" stroke="#9A7DC6" stroke-width="1.5"/>
<text x="627.2" y="1044.48" font-size="14.8" text-anchor="start" fill="#9A7DC6" stroke="#9A7DC6" stroke-width="0.1" font-family="Liberation Serif, serif">-140</text>
<line x1="614.6" y1="1025.26" x2="618.4" y2="1025.26" stroke="#9A7DC6" stroke-width="1.5"/>
<line x1="614.6" y1="1010.93" x2="622" y2="1010.93" stroke="#9A7DC6" stroke-width="1.5"/>
<text x="627.2" y="1015.81" font-size="14.8" text-anchor="start" fill="#9A7DC6" stroke="#9A7DC6" stroke-width="0.1" font-family="Liberation Serif, serif">-120</text>
<line x1="614.6" y1="996.59" x2="618.4" y2="996.59" stroke="#9A7DC6" stroke-width="1.5"/>
<line x1="614.6" y1="982.25" x2="622" y2="982.25" stroke="#9A7DC6" stroke-width="1.5"/>
<text x="627.2" y="987.14" font-size="14.8" text-anchor="start" fill="#9A7DC6" stroke="#9A7DC6" stroke-width="0.1" font-family="Liberation Serif, serif">-100</text>
<line x1="614.6" y1="967.92" x2="618.4" y2="967.92" stroke="#9A7DC6" stroke-width="1.5"/>
<line x1="614.6" y1="953.58" x2="622" y2="953.58" stroke="#9A7DC6" stroke-width="1.5"/>
<text x="627.2" y="958.46" font-size="14.8" text-anchor="start" fill="#9A7DC6" stroke="#9A7DC6" stroke-width="0.1" font-family="Liberation Serif, serif">-80</text>
<line x1="614.6" y1="939.24" x2="618.4" y2="939.24" stroke="#9A7DC6" stroke-width="1.5"/>
<line x1="614.6" y1="924.91" x2="622" y2="924.91" stroke="#9A7DC6" stroke-width="1.5"/>
<text x="627.2" y="929.79" font-size="14.8" text-anchor="start" fill="#9A7DC6" stroke="#9A7DC6" stroke-width="0.1" font-family="Liberation Serif, serif">-60</text>
<line x1="614.6" y1="910.57" x2="618.4" y2="910.57" stroke="#9A7DC6" stroke-width="1.5"/>
<line x1="614.6" y1="896.23" x2="622" y2="896.23" stroke="#9A7DC6" stroke-width="1.5"/>
<text x="627.2" y="901.12" font-size="14.8" text-anchor="start" fill="#9A7DC6" stroke="#9A7DC6" stroke-width="0.1" font-family="Liberation Serif, serif">-40</text>
<line x1="614.6" y1="881.89" x2="618.4" y2="881.89" stroke="#9A7DC6" stroke-width="1.5"/>
<line x1="614.6" y1="867.56" x2="622" y2="867.56" stroke="#9A7DC6" stroke-width="1.5"/>
<text x="627.2" y="872.44" font-size="14.8" text-anchor="start" fill="#9A7DC6" stroke="#9A7DC6" stroke-width="0.1" font-family="Liberation Serif, serif">-20</text>
<line x1="614.6" y1="853.22" x2="618.4" y2="853.22" stroke="#9A7DC6" stroke-width="1.5"/>
<line x1="614.6" y1="838.88" x2="622" y2="838.88" stroke="#9A7DC6" stroke-width="1.5"/>
<text x="627.2" y="843.77" font-size="14.8" text-anchor="start" fill="#9A7DC6" stroke="#9A7DC6" stroke-width="0.1" font-family="Liberation Serif, serif">0</text>
<line x1="614.6" y1="824.55" x2="618.4" y2="824.55" stroke="#9A7DC6" stroke-width="1.5"/>
<line x1="614.6" y1="810.21" x2="622" y2="810.21" stroke="#9A7DC6" stroke-width="1.5"/>
<text x="627.2" y="815.09" font-size="14.8" text-anchor="start" fill="#9A7DC6" stroke="#9A7DC6" stroke-width="0.1" font-family="Liberation Serif, serif">20</text>
<line x1="614.6" y1="795.87" x2="618.4" y2="795.87" stroke="#9A7DC6" stroke-width="1.5"/>
<line x1="614.6" y1="781.54" x2="622" y2="781.54" stroke="#9A7DC6" stroke-width="1.5"/>
<text x="627.2" y="786.42" font-size="14.8" text-anchor="start" fill="#9A7DC6" stroke="#9A7DC6" stroke-width="0.1" font-family="Liberation Serif, serif">40</text>
<line x1="614.6" y1="767.2" x2="618.4" y2="767.2" stroke="#9A7DC6" stroke-width="1.5"/>
<text transform="translate(24.5,905.4) rotate(-90)" font-size="16.6" text-anchor="middle" fill="#000" stroke="#000" stroke-width="0.28" font-family="Liberation Serif, serif">USS</text>
<text transform="translate(669.7,903.4) rotate(-90)" font-size="16.6" text-anchor="middle" fill="#000" stroke="#000" stroke-width="0.28" font-family="Liberation Serif, serif">Error (%)</text>
<text x="349.95" y="1089.9" font-size="16.6" text-anchor="middle" fill="#000" stroke="#000" stroke-width="0.28" font-family="Liberation Serif, serif">Sample Number</text>
<text x="336" y="1116.2" font-size="19" text-anchor="middle" fill="#000" stroke="#000" stroke-width="0.28" font-family="Liberation Serif, serif">(c)</text>
<rect x="90.2" y="772.1" width="217" height="17.2" fill="#fff" stroke="#8a8a8a" stroke-width="0.9"/>
<rect x="91.9" y="773.9" width="27.2" height="12.9" fill="#DD00CC" stroke="#777" stroke-width="0.5"/>
<text x="122.8" y="784.7" font-size="12.45" fill="#000" stroke="#000" stroke-width="0.28" font-family="Liberation Serif, serif">Measured</text>
<rect x="171.8" y="773.9" width="27.2" height="12.9" fill="#FFFF80" stroke="#777" stroke-width="0.5"/>
<text x="202.1" y="784.7" font-size="12.45" fill="#000" stroke="#000" stroke-width="0.28" font-family="Liberation Serif, serif">Predicted</text>
<line x1="248.9" y1="780.1" x2="276.7" y2="780.1" stroke="#9470BE" stroke-width="1.25"/>
<text x="280.6" y="784.7" font-size="12.45" fill="#000" stroke="#000" stroke-width="0.28" font-family="Liberation Serif, serif">Error</text>
<rect x="309.8" y="769.4" width="44.2" height="21.4" fill="#fff" stroke="#8a8a8a" stroke-width="0.9"/>
<text x="331.9" y="785.1" font-size="14.3" text-anchor="middle" fill="#000" stroke="#000" stroke-width="0.28" font-family="Liberation Serif, serif">NBAO</text>
</g>
</svg>
</body></html>
